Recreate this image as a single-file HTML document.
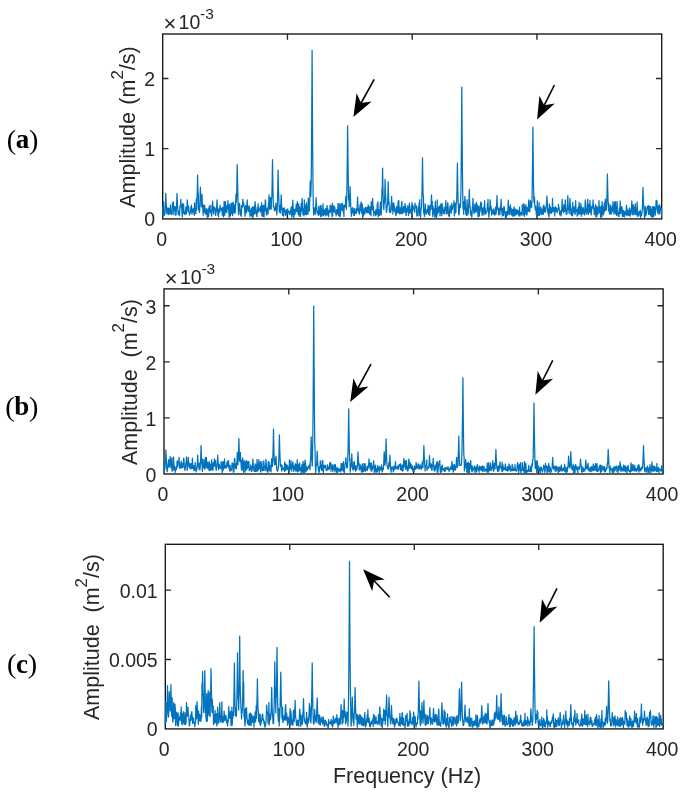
<!DOCTYPE html>
<html><head><meta charset="utf-8"><title>fig</title><style>html,body{margin:0;padding:0;background:#fff}svg{display:block;opacity:0.999;will-change:transform}text{font-family:"Liberation Sans",sans-serif}.ser{font-family:"Liberation Serif",serif}</style></head><body>
<svg width="686" height="799" viewBox="0 0 686 799">
<rect width="686" height="799" fill="#fff"/>
<rect x="162.70" y="34.00" width="499.00" height="184.90" fill="none" stroke="#141414" stroke-width="1.35"/>
<text x="161.7" y="246.0" font-size="19.5" text-anchor="middle" fill="#262626">0</text>
<path d="M287.45 218.90 v-5.7 M287.45 34.00 v5.7" stroke="#262626" stroke-width="1.35" fill="none"/>
<text x="286.4" y="246.0" font-size="19.5" text-anchor="middle" fill="#262626">100</text>
<path d="M412.20 218.90 v-5.7 M412.20 34.00 v5.7" stroke="#262626" stroke-width="1.35" fill="none"/>
<text x="411.2" y="246.0" font-size="19.5" text-anchor="middle" fill="#262626">200</text>
<path d="M536.95 218.90 v-5.7 M536.95 34.00 v5.7" stroke="#262626" stroke-width="1.35" fill="none"/>
<text x="536.0" y="246.0" font-size="19.5" text-anchor="middle" fill="#262626">300</text>
<text x="660.7" y="246.0" font-size="19.5" text-anchor="middle" fill="#262626">400</text>
<text x="155.1" y="226.4" font-size="19.5" text-anchor="end" fill="#262626">0</text>
<path d="M162.70 148.65 h5.7 M661.70 148.65 h-5.7" stroke="#262626" stroke-width="1.35" fill="none"/>
<text x="155.1" y="156.2" font-size="19.5" text-anchor="end" fill="#262626">1</text>
<path d="M162.70 78.50 h5.7 M661.70 78.50 h-5.7" stroke="#262626" stroke-width="1.35" fill="none"/>
<text x="155.1" y="86.0" font-size="19.5" text-anchor="end" fill="#262626">2</text>
<text x="169.9" y="31.2" font-size="22.0" text-anchor="middle" fill="#262626">×</text>
<text x="178.6" y="29.1" font-size="19.5" fill="#262626">10</text>
<text x="200.1" y="19.0" font-size="15.5" fill="#262626">-3</text>
<text transform="translate(135.4 127.0) rotate(-90)" font-size="21.5" word-spacing="1.5" text-anchor="middle" fill="#262626">Amplitude (m<tspan dy="-12.5" font-size="17.0">2</tspan><tspan dy="12.5">/s)</tspan></text>
<polyline points="162.7,206.4 163.0,216.5 163.3,209.0 163.6,201.9 163.9,214.0 164.3,215.3 164.6,214.9 164.9,213.7 165.2,208.9 165.5,202.2 165.8,193.5 166.1,202.2 166.4,206.2 166.8,213.7 167.1,210.3 167.4,210.5 167.7,208.4 168.0,207.7 168.3,214.7 168.6,213.9 168.9,209.5 169.2,208.4 169.6,213.6 169.9,208.7 170.2,213.7 170.5,205.2 170.8,212.3 171.1,213.9 171.4,210.9 171.7,214.5 172.1,214.2 172.4,202.8 172.7,209.1 173.0,208.1 173.3,201.8 173.6,209.0 173.9,214.8 174.2,209.6 174.6,206.3 174.9,210.2 175.2,210.1 175.5,207.0 175.8,215.4 176.1,213.7 176.4,208.9 176.7,202.2 177.0,193.5 177.4,202.2 177.7,207.3 178.0,210.9 178.3,214.5 178.6,211.1 178.9,211.4 179.2,213.4 179.5,215.6 179.9,207.0 180.2,206.0 180.5,205.9 180.8,199.2 181.1,205.9 181.4,208.0 181.7,205.4 182.0,213.4 182.3,217.0 182.7,203.5 183.0,206.7 183.3,213.0 183.6,204.2 183.9,211.6 184.2,213.6 184.5,211.5 184.8,214.6 185.2,211.7 185.5,213.3 185.8,207.2 186.1,212.0 186.4,214.0 186.7,211.4 187.0,206.4 187.3,199.9 187.6,206.4 188.0,205.7 188.3,211.6 188.6,206.1 188.9,210.1 189.2,212.8 189.5,215.2 189.8,213.2 190.1,213.0 190.5,212.9 190.8,207.1 191.1,209.8 191.4,205.1 191.7,208.2 192.0,214.3 192.3,209.4 192.6,212.4 193.0,210.4 193.3,208.6 193.6,209.8 193.9,208.9 194.2,215.3 194.5,202.8 194.8,213.8 195.1,212.8 195.4,208.4 195.8,213.8 196.1,203.4 196.4,198.8 196.7,210.0 197.0,201.7 197.3,190.2 197.6,175.2 197.9,190.2 198.3,193.6 198.6,210.0 198.9,207.3 199.2,210.2 199.5,212.5 199.8,206.4 200.1,198.0 200.4,187.2 200.7,198.0 201.1,195.9 201.4,206.8 201.7,202.7 202.0,194.2 202.3,202.7 202.6,206.1 202.9,209.7 203.2,215.2 203.6,205.3 203.9,207.1 204.2,212.1 204.5,204.9 204.8,207.2 205.1,210.1 205.4,213.5 205.7,212.5 206.1,214.5 206.4,208.6 206.7,209.5 207.0,210.7 207.3,217.4 207.6,210.3 207.9,213.2 208.2,208.9 208.5,216.7 208.9,214.0 209.2,206.4 209.5,206.1 209.8,210.4 210.1,205.4 210.4,212.5 210.7,211.0 211.0,210.5 211.4,214.3 211.7,216.2 212.0,205.2 212.3,210.5 212.6,201.1 212.9,205.9 213.2,209.1 213.5,214.0 213.8,213.7 214.2,207.0 214.5,207.7 214.8,207.8 215.1,208.5 215.4,210.9 215.7,215.4 216.0,212.2 216.3,211.4 216.7,206.4 217.0,199.9 217.3,206.4 217.6,211.4 217.9,215.0 218.2,210.0 218.5,216.8 218.8,209.4 219.1,208.6 219.5,211.9 219.8,212.2 220.1,205.2 220.4,207.8 220.7,209.7 221.0,209.9 221.3,208.2 221.6,210.4 222.0,209.4 222.3,215.2 222.6,207.5 222.9,207.8 223.2,214.3 223.5,216.9 223.8,214.5 224.1,201.4 224.5,208.9 224.8,215.1 225.1,208.5 225.4,201.6 225.7,208.5 226.0,212.2 226.3,208.1 226.6,206.2 226.9,212.5 227.3,205.2 227.6,206.8 227.9,200.6 228.2,206.8 228.5,209.6 228.8,208.5 229.1,217.4 229.4,204.5 229.8,211.3 230.1,214.5 230.4,216.0 230.7,210.1 231.0,203.4 231.3,213.8 231.6,205.2 231.9,211.9 232.2,203.0 232.6,215.7 232.9,208.5 233.2,202.2 233.5,209.5 233.8,212.7 234.1,212.9 234.4,211.7 234.7,204.5 235.1,213.1 235.4,209.2 235.7,202.7 236.0,194.2 236.3,202.7 236.6,197.5 236.9,183.2 237.2,164.6 237.6,183.2 237.9,197.5 238.2,207.9 238.5,214.6 238.8,211.2 239.1,204.9 239.4,203.3 239.7,204.7 240.0,208.8 240.4,215.0 240.7,211.1 241.0,215.2 241.3,216.3 241.6,205.6 241.9,208.3 242.2,207.6 242.5,205.9 242.9,199.2 243.2,205.9 243.5,202.7 243.8,204.5 244.1,206.6 244.4,207.3 244.7,210.3 245.0,216.3 245.3,213.4 245.7,205.3 246.0,213.0 246.3,212.4 246.6,210.9 246.9,206.4 247.2,199.9 247.5,206.4 247.8,206.6 248.2,211.4 248.5,211.3 248.8,211.2 249.1,205.8 249.4,209.4 249.7,207.7 250.0,216.5 250.3,213.4 250.6,210.3 251.0,211.1 251.3,215.4 251.6,208.0 251.9,211.8 252.2,217.6 252.5,208.9 252.8,206.8 253.1,216.9 253.5,207.9 253.8,211.7 254.1,206.3 254.4,214.1 254.7,213.0 255.0,201.7 255.3,204.6 255.6,207.8 256.0,212.4 256.3,214.4 256.6,213.5 256.9,216.6 257.2,210.6 257.5,207.2 257.8,212.9 258.1,203.8 258.4,211.4 258.8,209.0 259.1,209.0 259.4,209.7 259.7,208.8 260.0,211.3 260.3,206.3 260.6,212.2 260.9,211.4 261.3,210.8 261.6,202.7 261.9,216.1 262.2,205.4 262.5,207.4 262.8,206.3 263.1,216.5 263.4,212.1 263.7,205.2 264.1,216.9 264.4,208.6 264.7,211.4 265.0,206.4 265.3,199.9 265.6,201.1 265.9,210.8 266.2,210.3 266.6,215.2 266.9,212.0 267.2,208.1 267.5,212.0 267.8,208.0 268.1,214.0 268.4,203.9 268.7,203.1 269.0,194.9 269.4,203.1 269.7,209.5 270.0,207.6 270.3,197.6 270.6,207.1 270.9,207.6 271.2,209.2 271.5,199.4 271.9,195.6 272.2,180.0 272.5,159.7 272.8,180.0 273.1,195.6 273.4,206.9 273.7,205.7 274.0,206.5 274.4,210.8 274.7,208.5 275.0,209.3 275.3,209.9 275.6,207.5 275.9,203.1 276.2,211.0 276.5,208.6 276.8,215.0 277.2,209.0 277.5,199.8 277.8,186.9 278.1,170.2 278.4,186.9 278.7,195.5 279.0,203.3 279.3,212.0 279.7,209.9 280.0,205.6 280.3,213.2 280.6,209.5 280.9,203.1 281.2,194.9 281.5,203.1 281.8,209.5 282.1,209.1 282.5,215.3 282.8,208.1 283.1,210.5 283.4,214.3 283.7,216.1 284.0,208.5 284.3,207.8 284.6,211.5 285.0,211.6 285.3,211.6 285.6,215.2 285.9,211.2 286.2,209.6 286.5,211.3 286.8,214.7 287.1,209.8 287.4,210.9 287.8,208.8 288.1,212.5 288.4,211.1 288.7,212.0 289.0,211.8 289.3,214.2 289.6,213.6 289.9,214.5 290.3,210.5 290.6,212.5 290.9,209.7 291.2,207.2 291.5,214.8 291.8,216.9 292.1,206.1 292.4,214.9 292.8,200.1 293.1,206.8 293.4,216.8 293.7,218.0 294.0,209.2 294.3,211.6 294.6,209.5 294.9,214.7 295.2,211.5 295.6,208.9 295.9,211.8 296.2,204.2 296.5,209.2 296.8,209.9 297.1,211.4 297.4,201.7 297.7,205.3 298.1,213.5 298.4,214.6 298.7,203.8 299.0,216.1 299.3,209.5 299.6,206.9 299.9,209.7 300.2,211.1 300.5,216.5 300.9,212.1 301.2,203.4 301.5,210.9 301.8,205.5 302.1,198.4 302.4,205.5 302.7,210.9 303.0,214.7 303.4,210.0 303.7,208.6 304.0,215.9 304.3,199.8 304.6,210.8 304.9,206.5 305.2,214.2 305.5,205.4 305.9,205.0 306.2,214.9 306.5,202.7 306.8,206.2 307.1,214.2 307.4,208.1 307.7,211.9 308.0,214.1 308.3,198.0 308.7,206.4 309.0,209.1 309.3,211.2 309.6,203.9 309.9,193.9 310.2,180.8 310.5,193.9 310.8,196.4 311.2,183.0 311.5,152.6 311.8,108.1 312.1,50.4 312.4,108.1 312.7,152.6 313.0,184.7 313.3,205.4 313.6,214.9 314.0,209.2 314.3,213.0 314.6,207.9 314.9,208.7 315.2,214.6 315.5,208.8 315.8,205.0 316.1,197.7 316.5,205.0 316.8,210.6 317.1,213.0 317.4,212.7 317.7,211.1 318.0,214.1 318.3,215.4 318.6,206.6 318.9,213.6 319.3,211.8 319.6,209.8 319.9,214.7 320.2,205.7 320.5,216.7 320.8,208.9 321.1,205.7 321.4,212.3 321.8,216.1 322.1,216.0 322.4,208.1 322.7,213.2 323.0,203.9 323.3,210.3 323.6,215.7 323.9,212.0 324.3,214.0 324.6,209.8 324.9,214.4 325.2,213.4 325.5,208.7 325.8,216.0 326.1,214.2 326.4,209.1 326.7,209.5 327.1,205.5 327.4,215.0 327.7,208.2 328.0,211.5 328.3,214.2 328.6,216.7 328.9,210.6 329.2,212.1 329.6,212.5 329.9,210.0 330.2,205.0 330.5,212.3 330.8,206.7 331.1,209.7 331.4,207.5 331.7,205.9 332.0,216.9 332.4,203.2 332.7,215.5 333.0,205.9 333.3,205.8 333.6,210.8 333.9,211.8 334.2,206.2 334.5,211.6 334.9,207.7 335.2,210.8 335.5,213.1 335.8,211.5 336.1,215.7 336.4,211.9 336.7,209.7 337.0,210.5 337.4,213.9 337.7,214.2 338.0,203.6 338.3,204.5 338.6,215.6 338.9,211.7 339.2,203.8 339.5,214.1 339.8,216.2 340.2,216.8 340.5,213.2 340.8,203.6 341.1,206.7 341.4,207.7 341.7,210.2 342.0,204.3 342.3,203.4 342.7,207.9 343.0,210.2 343.3,212.5 343.6,205.7 343.9,216.6 344.2,205.0 344.5,207.9 344.8,206.9 345.1,206.3 345.5,204.1 345.8,196.3 346.1,204.1 346.4,209.5 346.7,200.0 347.0,182.3 347.3,157.7 347.6,125.8 348.0,157.7 348.3,182.3 348.6,200.0 348.9,194.5 349.2,206.7 349.5,203.7 349.8,197.6 350.1,186.5 350.4,197.6 350.8,206.1 351.1,212.3 351.4,216.3 351.7,211.0 352.0,209.6 352.3,208.5 352.6,207.7 352.9,213.0 353.3,211.3 353.6,213.8 353.9,215.5 354.2,208.4 354.5,215.5 354.8,211.8 355.1,209.0 355.4,212.6 355.8,212.7 356.1,213.4 356.4,213.6 356.7,208.3 357.0,210.3 357.3,204.5 357.6,197.0 357.9,204.5 358.2,210.3 358.6,212.6 358.9,209.2 359.2,209.2 359.5,214.1 359.8,207.9 360.1,204.6 360.4,210.8 360.7,209.2 361.1,201.9 361.4,209.5 361.7,213.2 362.0,203.6 362.3,204.7 362.6,217.6 362.9,214.1 363.2,213.2 363.5,215.9 363.9,208.0 364.2,211.4 364.5,210.3 364.8,214.2 365.1,212.8 365.4,208.2 365.7,207.3 366.0,211.5 366.4,208.2 366.7,212.4 367.0,212.7 367.3,207.4 367.6,212.6 367.9,209.6 368.2,205.0 368.5,212.6 368.8,206.6 369.2,208.8 369.5,214.0 369.8,206.8 370.1,214.1 370.4,207.0 370.7,212.0 371.0,215.8 371.3,201.5 371.7,209.3 372.0,209.5 372.3,205.5 372.6,198.4 372.9,205.5 373.2,210.9 373.5,206.5 373.8,216.0 374.2,211.5 374.5,211.7 374.8,213.4 375.1,212.9 375.4,211.3 375.7,215.7 376.0,209.4 376.3,214.6 376.6,209.7 377.0,213.9 377.3,203.5 377.6,209.8 377.9,201.7 378.2,216.9 378.5,214.5 378.8,209.7 379.1,215.5 379.5,213.8 379.8,215.4 380.1,207.8 380.4,202.1 380.7,212.4 381.0,203.0 381.3,214.8 381.6,202.5 381.9,191.2 382.3,185.5 382.6,168.1 382.9,185.5 383.2,198.9 383.5,206.0 383.8,209.6 384.1,202.6 384.4,203.4 384.8,192.9 385.1,179.4 385.4,192.9 385.7,197.0 386.0,204.4 386.3,210.6 386.6,212.3 386.9,209.3 387.2,205.8 387.6,204.2 387.9,194.3 388.2,181.5 388.5,194.3 388.8,204.2 389.1,202.4 389.4,211.4 389.7,212.3 390.1,210.0 390.4,210.5 390.7,212.6 391.0,205.0 391.3,204.1 391.6,196.3 391.9,204.1 392.2,210.0 392.6,208.3 392.9,214.0 393.2,203.3 393.5,202.8 393.8,203.7 394.1,210.1 394.4,205.9 394.7,211.6 395.0,208.2 395.4,211.5 395.7,215.0 396.0,215.6 396.3,213.3 396.6,206.9 396.9,206.7 397.2,212.9 397.5,211.0 397.9,206.1 398.2,200.8 398.5,212.5 398.8,200.6 399.1,209.9 399.4,213.9 399.7,211.7 400.0,207.4 400.3,213.4 400.7,211.7 401.0,213.9 401.3,209.5 401.6,202.6 401.9,201.3 402.2,213.3 402.5,209.9 402.8,208.5 403.2,213.1 403.5,207.5 403.8,206.4 404.1,210.2 404.4,207.1 404.7,212.1 405.0,203.5 405.3,208.3 405.7,206.1 406.0,215.4 406.3,215.0 406.6,208.7 406.9,208.6 407.2,210.9 407.5,211.7 407.8,205.7 408.1,207.8 408.5,215.5 408.8,211.2 409.1,213.2 409.4,203.1 409.7,212.3 410.0,211.6 410.3,209.7 410.6,209.8 411.0,213.5 411.3,206.0 411.6,216.8 411.9,202.4 412.2,209.6 412.5,212.2 412.8,204.8 413.1,207.3 413.4,207.1 413.8,207.8 414.1,209.7 414.4,209.6 414.7,212.3 415.0,203.1 415.3,207.1 415.6,206.8 415.9,205.6 416.3,205.6 416.6,211.8 416.9,216.0 417.2,212.1 417.5,215.1 417.8,215.9 418.1,207.0 418.4,210.0 418.7,211.2 419.1,202.7 419.4,215.1 419.7,199.6 420.0,213.3 420.3,215.7 420.6,217.3 420.9,210.5 421.2,208.6 421.6,206.5 421.9,194.9 422.2,178.8 422.5,157.9 422.8,178.8 423.1,194.9 423.4,195.4 423.7,213.3 424.1,210.4 424.4,216.7 424.7,212.1 425.0,208.4 425.3,203.8 425.6,210.6 425.9,212.2 426.2,214.3 426.5,211.1 426.9,212.4 427.2,209.3 427.5,209.9 427.8,212.0 428.1,205.2 428.4,214.3 428.7,207.7 429.0,211.9 429.4,206.0 429.7,215.4 430.0,208.6 430.3,209.9 430.6,205.2 430.9,209.5 431.2,203.1 431.5,194.9 431.8,203.1 432.2,201.1 432.5,211.2 432.8,216.6 433.1,206.4 433.4,211.2 433.7,208.8 434.0,214.1 434.3,208.8 434.7,217.0 435.0,213.3 435.3,201.2 435.6,214.1 435.9,214.7 436.2,217.8 436.5,208.5 436.8,216.7 437.2,199.9 437.5,214.0 437.8,208.3 438.1,209.4 438.4,212.7 438.7,207.1 439.0,208.8 439.3,206.6 439.6,205.8 440.0,215.9 440.3,212.6 440.6,209.4 440.9,203.8 441.2,208.0 441.5,212.7 441.8,215.7 442.1,203.7 442.5,209.1 442.8,207.0 443.1,209.8 443.4,213.5 443.7,210.3 444.0,210.0 444.3,213.8 444.6,210.6 444.9,207.0 445.3,210.3 445.6,205.6 445.9,200.7 446.2,214.0 446.5,206.9 446.8,212.5 447.1,213.2 447.4,209.6 447.8,202.7 448.1,207.1 448.4,214.7 448.7,215.7 449.0,213.8 449.3,216.8 449.6,210.0 449.9,208.1 450.2,205.6 450.6,211.3 450.9,212.0 451.2,213.4 451.5,209.9 451.8,203.4 452.1,209.0 452.4,209.5 452.7,206.7 453.1,205.8 453.4,205.7 453.7,206.4 454.0,200.9 454.3,215.8 454.6,209.8 454.9,203.2 455.2,210.7 455.6,213.0 455.9,212.3 456.2,202.6 456.5,203.5 456.8,197.0 457.1,182.3 457.4,163.2 457.7,182.3 458.0,197.0 458.4,207.6 458.7,214.4 459.0,214.8 459.3,212.5 459.6,204.2 459.9,207.5 460.2,205.0 460.5,207.6 460.9,192.1 461.2,167.0 461.5,132.2 461.8,87.1 462.1,132.2 462.4,167.0 462.7,192.1 463.0,208.4 463.3,205.9 463.7,214.3 464.0,201.7 464.3,210.0 464.6,204.1 464.9,196.3 465.2,201.2 465.5,205.8 465.8,214.3 466.2,212.9 466.5,215.3 466.8,210.1 467.1,199.6 467.4,212.6 467.7,215.0 468.0,212.0 468.3,212.9 468.6,207.2 469.0,199.4 469.3,189.3 469.6,199.4 469.9,207.2 470.2,206.9 470.5,214.9 470.8,213.0 471.1,211.0 471.5,212.3 471.8,217.3 472.1,213.5 472.4,206.2 472.7,205.5 473.0,198.4 473.3,205.5 473.6,210.1 474.0,213.5 474.3,212.5 474.6,210.6 474.9,204.0 475.2,207.1 475.5,211.5 475.8,210.1 476.1,212.4 476.4,202.4 476.8,210.6 477.1,204.5 477.4,206.4 477.7,206.3 478.0,216.9 478.3,210.2 478.6,215.9 478.9,206.1 479.3,216.1 479.6,212.4 479.9,209.6 480.2,211.2 480.5,204.0 480.8,202.2 481.1,206.4 481.4,202.9 481.7,209.4 482.1,215.4 482.4,209.0 482.7,208.4 483.0,213.0 483.3,207.6 483.6,212.3 483.9,214.9 484.2,209.2 484.6,200.7 484.9,208.7 485.2,208.3 485.5,213.6 485.8,214.1 486.1,211.4 486.4,212.4 486.7,211.3 487.1,211.2 487.4,203.9 487.7,209.5 488.0,199.4 488.3,210.9 488.6,212.4 488.9,217.3 489.2,213.2 489.5,208.4 489.9,206.4 490.2,199.9 490.5,206.4 490.8,210.3 491.1,206.3 491.4,210.3 491.7,215.1 492.0,210.7 492.4,210.2 492.7,212.7 493.0,212.1 493.3,214.0 493.6,208.9 493.9,213.0 494.2,212.4 494.5,214.7 494.8,215.3 495.2,211.1 495.5,207.2 495.8,211.9 496.1,214.2 496.4,209.7 496.7,203.6 497.0,195.6 497.3,203.6 497.7,209.3 498.0,209.3 498.3,210.9 498.6,214.9 498.9,209.0 499.2,207.8 499.5,211.7 499.8,214.7 500.1,211.5 500.5,209.1 500.8,205.9 501.1,199.2 501.4,205.9 501.7,211.1 502.0,213.3 502.3,216.1 502.6,208.3 503.0,213.2 503.3,210.5 503.6,215.4 503.9,206.5 504.2,206.8 504.5,210.1 504.8,212.9 505.1,211.6 505.5,217.6 505.8,215.7 506.1,212.5 506.4,217.4 506.7,211.3 507.0,211.3 507.3,212.5 507.6,215.2 507.9,208.7 508.3,200.2 508.6,213.8 508.9,211.8 509.2,207.2 509.5,210.9 509.8,214.6 510.1,210.0 510.4,204.9 510.8,211.4 511.1,208.1 511.4,214.4 511.7,210.2 512.0,215.4 512.3,209.3 512.6,211.6 512.9,216.5 513.2,214.8 513.6,208.8 513.9,209.4 514.2,206.8 514.5,215.9 514.8,215.3 515.1,212.1 515.4,211.1 515.7,209.1 516.1,214.9 516.4,210.8 516.7,211.4 517.0,209.8 517.3,213.9 517.6,210.9 517.9,210.3 518.2,212.3 518.5,212.3 518.9,215.6 519.2,213.3 519.5,207.1 519.8,216.1 520.1,213.8 520.4,212.4 520.7,212.1 521.0,213.4 521.4,214.8 521.7,215.2 522.0,215.2 522.3,204.7 522.6,208.7 522.9,206.1 523.2,205.1 523.5,215.0 523.9,203.6 524.2,206.1 524.5,216.3 524.8,209.6 525.1,206.7 525.4,213.3 525.7,206.1 526.0,204.7 526.3,214.6 526.7,212.7 527.0,215.0 527.3,207.4 527.6,211.4 527.9,210.3 528.2,211.4 528.5,206.4 528.8,199.9 529.2,206.4 529.5,211.4 529.8,211.7 530.1,206.8 530.4,200.6 530.7,206.8 531.0,204.6 531.3,202.3 531.6,207.7 532.0,200.3 532.3,182.8 532.6,158.6 532.9,127.2 533.2,158.6 533.5,182.8 533.8,200.3 534.1,202.6 534.5,196.9 534.8,205.7 535.1,207.8 535.4,209.8 535.7,206.3 536.0,208.9 536.3,215.0 536.6,208.7 537.0,216.6 537.3,200.8 537.6,209.5 537.9,207.9 538.2,215.5 538.5,211.1 538.8,214.2 539.1,202.6 539.4,215.4 539.8,210.1 540.1,212.7 540.4,208.2 540.7,207.1 541.0,214.1 541.3,209.7 541.6,214.6 541.9,209.1 542.3,211.4 542.6,209.7 542.9,214.0 543.2,206.0 543.5,214.3 543.8,205.1 544.1,207.6 544.4,207.3 544.7,211.6 545.1,207.9 545.4,212.2 545.7,211.4 546.0,207.6 546.3,204.6 546.6,203.8 546.9,196.0 547.2,200.5 547.6,209.5 547.9,213.1 548.2,208.8 548.5,215.8 548.8,211.3 549.1,217.0 549.4,204.0 549.7,213.6 550.0,206.5 550.4,206.5 550.7,212.4 551.0,210.2 551.3,208.4 551.6,213.4 551.9,210.9 552.2,211.6 552.5,198.4 552.9,210.5 553.2,211.7 553.5,210.8 553.8,207.6 554.1,208.1 554.4,207.8 554.7,215.9 555.0,212.2 555.4,206.7 555.7,211.0 556.0,208.6 556.3,208.8 556.6,208.0 556.9,212.0 557.2,212.8 557.5,210.6 557.8,209.8 558.2,209.2 558.5,204.3 558.8,208.6 559.1,207.6 559.4,210.4 559.7,214.8 560.0,212.9 560.3,212.7 560.7,210.8 561.0,215.9 561.3,212.9 561.6,211.4 561.9,205.5 562.2,199.3 562.5,209.8 562.8,211.0 563.1,210.6 563.5,212.7 563.8,204.8 564.1,211.2 564.4,210.7 564.7,211.4 565.0,204.9 565.3,199.9 565.6,206.4 566.0,211.4 566.3,214.4 566.6,213.3 566.9,214.2 567.2,209.7 567.5,203.6 567.8,195.6 568.1,203.6 568.4,209.7 568.8,207.8 569.1,213.5 569.4,210.9 569.7,205.5 570.0,198.4 570.3,205.5 570.6,205.2 570.9,214.7 571.3,212.5 571.6,215.3 571.9,212.8 572.2,208.2 572.5,216.0 572.8,202.3 573.1,213.3 573.4,211.0 573.8,211.1 574.1,207.2 574.4,206.9 574.7,211.9 575.0,214.3 575.3,213.0 575.6,200.7 575.9,207.3 576.2,211.4 576.6,209.7 576.9,209.6 577.2,216.1 577.5,215.4 577.8,214.8 578.1,207.3 578.4,209.1 578.7,214.2 579.1,202.2 579.4,212.3 579.7,209.7 580.0,213.8 580.3,205.6 580.6,211.8 580.9,203.5 581.2,216.3 581.5,206.9 581.9,212.2 582.2,214.3 582.5,208.6 582.8,213.7 583.1,207.3 583.4,209.1 583.7,212.5 584.0,211.1 584.4,215.0 584.7,211.4 585.0,206.4 585.3,199.9 585.6,206.4 585.9,211.4 586.2,214.2 586.5,213.5 586.9,210.6 587.2,208.3 587.5,202.1 587.8,199.3 588.1,214.1 588.4,214.4 588.7,204.7 589.0,209.4 589.3,212.5 589.7,212.3 590.0,200.4 590.3,209.7 590.6,206.2 590.9,212.2 591.2,214.9 591.5,211.4 591.8,208.3 592.2,205.6 592.5,208.4 592.8,206.4 593.1,199.9 593.4,206.4 593.7,206.3 594.0,210.3 594.3,214.7 594.6,208.4 595.0,212.0 595.3,213.7 595.6,204.5 595.9,216.9 596.2,208.0 596.5,207.5 596.8,216.7 597.1,206.4 597.5,211.1 597.8,214.4 598.1,209.9 598.4,208.1 598.7,212.5 599.0,200.6 599.3,209.8 599.6,212.8 599.9,213.2 600.3,206.9 600.6,217.2 600.9,211.9 601.2,217.2 601.5,205.6 601.8,216.9 602.1,201.5 602.4,206.9 602.8,206.5 603.1,215.0 603.4,208.7 603.7,213.9 604.0,212.9 604.3,203.2 604.6,211.1 604.9,205.9 605.3,199.2 605.6,201.2 605.9,210.4 606.2,203.4 606.5,209.8 606.8,201.2 607.1,189.4 607.4,174.0 607.7,189.4 608.1,201.2 608.4,205.1 608.7,211.0 609.0,203.8 609.3,213.2 609.6,211.1 609.9,214.2 610.2,213.8 610.6,205.1 610.9,211.2 611.2,214.1 611.5,212.5 611.8,212.7 612.1,207.0 612.4,211.3 612.7,209.7 613.0,201.6 613.4,209.5 613.7,208.2 614.0,214.1 614.3,207.5 614.6,202.2 614.9,207.4 615.2,213.0 615.5,201.7 615.9,213.7 616.2,206.5 616.5,215.4 616.8,214.1 617.1,201.5 617.4,213.3 617.7,212.8 618.0,212.1 618.3,216.1 618.7,212.6 619.0,216.4 619.3,208.1 619.6,213.4 619.9,210.5 620.2,201.0 620.5,211.2 620.8,213.7 621.2,207.3 621.5,207.6 621.8,206.6 622.1,207.8 622.4,216.3 622.7,210.0 623.0,214.0 623.3,216.4 623.7,210.6 624.0,214.4 624.3,217.0 624.6,211.7 624.9,215.1 625.2,213.8 625.5,213.3 625.8,214.5 626.1,209.9 626.5,205.2 626.8,215.7 627.1,208.8 627.4,214.9 627.7,211.3 628.0,211.3 628.3,210.7 628.6,215.3 629.0,215.3 629.3,207.8 629.6,211.5 629.9,208.5 630.2,216.2 630.5,213.7 630.8,211.7 631.1,210.4 631.4,210.9 631.8,200.9 632.1,214.3 632.4,214.7 632.7,209.3 633.0,204.6 633.3,205.7 633.6,207.6 633.9,214.9 634.3,213.8 634.6,207.0 634.9,213.6 635.2,203.8 635.5,207.2 635.8,213.6 636.1,215.0 636.4,211.4 636.8,214.0 637.1,201.9 637.4,208.2 637.7,216.5 638.0,212.1 638.3,216.0 638.6,213.2 638.9,215.3 639.2,211.5 639.6,211.5 639.9,213.0 640.2,210.1 640.5,217.4 640.8,213.0 641.1,212.5 641.4,215.7 641.7,213.5 642.1,212.5 642.4,206.5 642.7,198.2 643.0,187.4 643.3,198.2 643.6,203.7 643.9,209.2 644.2,210.6 644.5,217.7 644.9,216.4 645.2,206.5 645.5,208.1 645.8,215.5 646.1,214.7 646.4,213.4 646.7,211.7 647.0,208.6 647.4,206.3 647.7,208.7 648.0,208.2 648.3,205.5 648.6,214.4 648.9,211.6 649.2,214.2 649.5,207.0 649.8,206.4 650.2,210.9 650.5,215.2 650.8,206.6 651.1,216.6 651.4,209.0 651.7,212.4 652.0,213.0 652.3,217.2 652.7,206.6 653.0,207.1 653.3,206.7 653.6,216.7 653.9,211.4 654.2,208.0 654.5,206.9 654.8,211.6 655.2,215.3 655.5,210.4 655.8,209.8 656.1,200.4 656.4,207.8 656.7,200.4 657.0,201.2 657.3,209.7 657.6,212.8 658.0,210.2 658.3,206.1 658.6,206.9 658.9,214.1 659.2,204.7 659.5,209.3 659.8,213.8 660.1,206.0 660.5,210.2 660.8,210.3 661.1,208.9 661.4,208.3 661.7,217.0" fill="none" stroke="#0072BD" stroke-width="1.25" stroke-linejoin="round"/>
<line x1="374.2" y1="79.3" x2="361.1" y2="103.0" stroke="#000" stroke-width="1.60"/><polygon points="353.4,117.0 356.6,93.3 361.1,103.0 371.7,101.6" fill="#000"/>
<line x1="554.4" y1="85.0" x2="544.3" y2="105.2" stroke="#000" stroke-width="1.60"/><polygon points="537.1,119.5 539.4,95.7 544.3,105.2 554.8,103.4" fill="#000"/>
<rect x="164.00" y="288.90" width="499.15" height="185.10" fill="none" stroke="#141414" stroke-width="1.35"/>
<text x="163.0" y="501.1" font-size="19.5" text-anchor="middle" fill="#262626">0</text>
<path d="M288.79 474.00 v-5.7 M288.79 288.90 v5.7" stroke="#262626" stroke-width="1.35" fill="none"/>
<text x="287.8" y="501.1" font-size="19.5" text-anchor="middle" fill="#262626">100</text>
<path d="M413.57 474.00 v-5.7 M413.57 288.90 v5.7" stroke="#262626" stroke-width="1.35" fill="none"/>
<text x="412.6" y="501.1" font-size="19.5" text-anchor="middle" fill="#262626">200</text>
<path d="M538.36 474.00 v-5.7 M538.36 288.90 v5.7" stroke="#262626" stroke-width="1.35" fill="none"/>
<text x="537.4" y="501.1" font-size="19.5" text-anchor="middle" fill="#262626">300</text>
<text x="662.1" y="501.1" font-size="19.5" text-anchor="middle" fill="#262626">400</text>
<text x="156.4" y="482.0" font-size="19.5" text-anchor="end" fill="#262626">0</text>
<path d="M164.00 417.90 h5.7 M663.15 417.90 h-5.7" stroke="#262626" stroke-width="1.35" fill="none"/>
<text x="156.4" y="425.9" font-size="19.5" text-anchor="end" fill="#262626">1</text>
<path d="M164.00 361.85 h5.7 M663.15 361.85 h-5.7" stroke="#262626" stroke-width="1.35" fill="none"/>
<text x="156.4" y="369.9" font-size="19.5" text-anchor="end" fill="#262626">2</text>
<path d="M164.00 305.75 h5.7 M663.15 305.75 h-5.7" stroke="#262626" stroke-width="1.35" fill="none"/>
<text x="156.4" y="313.8" font-size="19.5" text-anchor="end" fill="#262626">3</text>
<text x="171.2" y="286.1" font-size="22.0" text-anchor="middle" fill="#262626">×</text>
<text x="179.9" y="284.0" font-size="19.5" fill="#262626">10</text>
<text x="201.4" y="273.9" font-size="15.5" fill="#262626">-3</text>
<text transform="translate(136.6 382.0) rotate(-90)" font-size="21.5" word-spacing="0.0" text-anchor="middle" fill="#262626">Amplitude&#160;&#160;(m<tspan dy="-12.5" font-size="17.0">2</tspan><tspan dy="12.5">/s)</tspan></text>
<polyline points="164.0,469.2 164.3,463.1 164.6,464.9 164.9,469.1 165.2,464.6 165.6,458.2 165.9,450.0 166.2,458.2 166.5,461.8 166.8,468.5 167.1,471.8 167.4,470.1 167.7,467.6 168.1,464.6 168.4,462.1 168.7,459.6 169.0,467.0 169.3,466.7 169.6,463.9 169.9,463.9 170.2,456.6 170.6,463.6 170.9,467.6 171.2,467.7 171.5,465.4 171.8,457.9 172.1,471.3 172.4,466.1 172.7,465.1 173.0,470.4 173.4,457.0 173.7,458.1 174.0,469.0 174.3,467.8 174.6,466.2 174.9,470.5 175.2,472.3 175.5,469.3 175.9,469.6 176.2,466.9 176.5,469.3 176.8,465.7 177.1,461.3 177.4,460.8 177.7,467.0 178.0,463.2 178.4,461.9 178.7,463.0 179.0,457.3 179.3,463.0 179.6,467.4 179.9,468.5 180.2,468.1 180.5,468.0 180.8,463.3 181.2,461.3 181.5,465.0 181.8,467.9 182.1,463.3 182.4,467.6 182.7,467.2 183.0,466.1 183.3,465.6 183.7,458.1 184.0,460.1 184.3,468.0 184.6,468.3 184.9,470.4 185.2,468.3 185.5,466.2 185.8,462.6 186.1,463.3 186.5,456.8 186.8,462.7 187.1,470.1 187.4,469.8 187.7,466.3 188.0,463.0 188.3,457.3 188.6,463.0 189.0,462.9 189.3,467.3 189.6,463.5 189.9,468.0 190.2,465.7 190.5,468.9 190.8,466.5 191.1,463.3 191.5,468.4 191.8,466.1 192.1,468.5 192.4,458.1 192.7,464.7 193.0,466.1 193.3,468.4 193.6,465.6 193.9,470.8 194.3,470.5 194.6,468.8 194.9,466.7 195.2,462.5 195.5,469.8 195.8,469.9 196.1,471.8 196.4,467.5 196.8,470.2 197.1,466.5 197.4,461.5 197.7,455.1 198.0,461.5 198.3,466.5 198.6,465.6 198.9,468.8 199.3,464.6 199.6,463.2 199.9,470.2 200.2,467.0 200.5,462.8 200.8,455.3 201.1,445.5 201.4,455.3 201.7,462.8 202.1,465.3 202.4,471.7 202.7,464.3 203.0,458.8 203.3,465.5 203.6,467.7 203.9,463.3 204.2,467.9 204.6,459.9 204.9,469.4 205.2,467.2 205.5,457.4 205.8,467.4 206.1,463.0 206.4,457.3 206.7,463.0 207.1,467.4 207.4,468.3 207.7,464.0 208.0,462.2 208.3,468.5 208.6,468.0 208.9,465.2 209.2,470.7 209.5,461.7 209.9,467.0 210.2,470.4 210.5,464.4 210.8,469.6 211.1,464.6 211.4,469.4 211.7,459.6 212.0,469.8 212.4,469.6 212.7,464.7 213.0,470.3 213.3,462.5 213.6,465.1 213.9,464.3 214.2,466.3 214.5,458.9 214.9,465.4 215.2,465.6 215.5,460.7 215.8,466.8 216.1,470.2 216.4,470.2 216.7,467.5 217.0,466.5 217.3,461.5 217.7,455.1 218.0,461.5 218.3,463.8 218.6,469.8 218.9,464.4 219.2,464.2 219.5,468.0 219.8,467.4 220.2,468.5 220.5,468.0 220.8,466.6 221.1,461.7 221.4,464.8 221.7,465.4 222.0,470.0 222.3,472.5 222.7,461.8 223.0,461.6 223.3,470.1 223.6,463.2 223.9,468.1 224.2,464.1 224.5,459.0 224.8,464.1 225.1,468.1 225.5,465.7 225.8,467.3 226.1,468.0 226.4,466.6 226.7,464.5 227.0,462.1 227.3,463.4 227.6,466.5 228.0,460.7 228.3,462.3 228.6,460.9 228.9,468.3 229.2,465.0 229.5,469.1 229.8,471.0 230.1,465.4 230.4,468.7 230.8,469.4 231.1,470.8 231.4,469.7 231.7,469.4 232.0,463.0 232.3,463.6 232.6,463.1 232.9,463.6 233.3,472.1 233.6,468.4 233.9,471.9 234.2,465.3 234.5,458.3 234.8,459.3 235.1,466.9 235.4,466.3 235.8,468.6 236.1,463.9 236.4,468.8 236.7,465.4 237.0,459.7 237.3,452.3 237.6,457.4 237.9,464.7 238.2,460.0 238.6,450.6 238.9,438.5 239.2,450.6 239.5,460.0 239.8,461.5 240.1,459.7 240.4,452.3 240.7,459.7 241.1,464.0 241.4,469.3 241.7,460.7 242.0,470.5 242.3,462.0 242.6,457.8 242.9,464.9 243.2,463.5 243.6,472.7 243.9,466.3 244.2,460.4 244.5,462.5 244.8,461.8 245.1,471.9 245.4,468.8 245.7,466.2 246.0,462.7 246.4,460.5 246.7,470.0 247.0,463.5 247.3,468.4 247.6,461.6 247.9,465.0 248.2,467.3 248.5,464.7 248.9,461.3 249.2,470.7 249.5,470.0 249.8,468.9 250.1,467.3 250.4,469.5 250.7,465.0 251.0,466.4 251.4,471.4 251.7,468.8 252.0,470.9 252.3,468.1 252.6,464.1 252.9,459.0 253.2,464.1 253.5,467.2 253.8,469.7 254.2,471.7 254.5,470.5 254.8,468.4 255.1,463.8 255.4,471.4 255.7,466.6 256.0,468.5 256.3,464.8 256.7,471.5 257.0,459.4 257.3,466.9 257.6,470.7 257.9,467.5 258.2,464.2 258.5,470.2 258.8,459.7 259.2,468.2 259.5,468.7 259.8,467.5 260.1,465.0 260.4,461.6 260.7,472.1 261.0,468.8 261.3,465.6 261.6,466.4 262.0,461.7 262.3,470.8 262.6,469.1 262.9,468.1 263.2,470.0 263.5,470.4 263.8,460.8 264.1,466.6 264.5,465.9 264.8,467.3 265.1,470.6 265.4,468.3 265.7,464.5 266.0,459.5 266.3,464.5 266.6,468.3 266.9,471.1 267.3,469.5 267.6,468.0 267.9,472.6 268.2,461.9 268.5,469.9 268.8,461.6 269.1,462.5 269.4,470.9 269.8,466.4 270.1,465.4 270.4,468.7 270.7,469.5 271.0,471.9 271.3,464.4 271.6,458.7 271.9,465.7 272.3,466.6 272.6,461.6 272.9,456.3 273.2,444.4 273.5,429.0 273.8,444.4 274.1,456.3 274.4,464.9 274.7,458.4 275.1,464.5 275.4,463.3 275.7,462.3 276.0,456.2 276.3,462.3 276.6,467.0 276.9,470.3 277.2,470.1 277.6,471.4 277.9,470.0 278.2,468.0 278.5,466.1 278.8,458.6 279.1,448.3 279.4,434.9 279.7,448.3 280.1,458.6 280.4,466.1 280.7,464.9 281.0,464.6 281.3,466.7 281.6,470.9 281.9,465.2 282.2,467.0 282.5,469.9 282.9,468.4 283.2,467.9 283.5,468.8 283.8,469.0 284.1,468.7 284.4,471.5 284.7,461.9 285.0,469.1 285.4,470.6 285.7,465.7 286.0,464.0 286.3,469.2 286.6,468.7 286.9,469.8 287.2,465.1 287.5,469.4 287.9,469.4 288.2,469.4 288.5,466.9 288.8,469.7 289.1,472.0 289.4,460.0 289.7,469.4 290.0,469.6 290.3,466.9 290.7,467.9 291.0,460.7 291.3,466.4 291.6,471.1 291.9,467.7 292.2,468.0 292.5,465.2 292.8,461.9 293.2,465.9 293.5,468.6 293.8,471.5 294.1,466.2 294.4,469.4 294.7,467.6 295.0,466.3 295.3,463.6 295.7,470.9 296.0,464.6 296.3,469.6 296.6,467.7 296.9,471.0 297.2,459.6 297.5,472.0 297.8,468.4 298.1,464.0 298.5,469.0 298.8,471.1 299.1,471.0 299.4,466.0 299.7,462.8 300.0,470.3 300.3,468.5 300.6,467.6 301.0,470.1 301.3,473.2 301.6,468.0 301.9,464.6 302.2,465.9 302.5,472.0 302.8,471.8 303.1,461.3 303.5,472.8 303.8,465.2 304.1,464.0 304.4,472.6 304.7,469.0 305.0,460.1 305.3,461.7 305.6,463.9 305.9,471.8 306.3,470.9 306.6,466.8 306.9,469.2 307.2,470.0 307.5,469.9 307.8,468.6 308.1,468.4 308.4,465.8 308.8,467.3 309.1,467.5 309.4,466.8 309.7,464.2 310.0,469.6 310.3,462.4 310.6,459.4 310.9,449.5 311.2,436.8 311.6,449.5 311.9,459.4 312.2,466.1 312.5,459.3 312.8,439.9 313.1,407.9 313.4,363.6 313.7,306.1 314.1,363.6 314.4,407.9 314.7,439.9 315.0,447.0 315.3,462.9 315.6,472.7 315.9,470.0 316.2,465.6 316.6,465.0 316.9,459.0 317.2,451.1 317.5,459.0 317.8,465.0 318.1,466.3 318.4,470.8 318.7,467.4 319.0,472.5 319.4,471.0 319.7,466.5 320.0,468.3 320.3,460.8 320.6,465.4 320.9,465.8 321.2,465.1 321.5,470.1 321.9,470.6 322.2,460.7 322.5,469.2 322.8,460.6 323.1,470.5 323.4,472.5 323.7,468.0 324.0,465.5 324.4,467.5 324.7,467.4 325.0,465.1 325.3,467.2 325.6,465.6 325.9,469.5 326.2,469.5 326.5,470.4 326.8,470.6 327.2,470.1 327.5,464.8 327.8,469.0 328.1,468.0 328.4,469.4 328.7,468.9 329.0,466.8 329.3,469.2 329.7,462.9 330.0,464.8 330.3,464.7 330.6,462.4 330.9,471.1 331.2,465.7 331.5,468.6 331.8,468.8 332.2,464.5 332.5,468.0 332.8,471.7 333.1,466.2 333.4,467.3 333.7,469.4 334.0,467.3 334.3,464.5 334.6,466.4 335.0,471.9 335.3,464.7 335.6,466.1 335.9,470.4 336.2,470.5 336.5,470.7 336.8,472.3 337.1,467.7 337.5,473.0 337.8,469.0 338.1,468.4 338.4,470.8 338.7,469.2 339.0,471.1 339.3,469.8 339.6,468.9 340.0,469.7 340.3,471.3 340.6,471.9 340.9,468.0 341.2,463.3 341.5,470.4 341.8,467.9 342.1,463.6 342.4,464.8 342.8,469.5 343.1,471.2 343.4,461.7 343.7,469.7 344.0,468.9 344.3,473.3 344.6,469.2 344.9,466.4 345.3,462.3 345.6,463.2 345.9,457.6 346.2,463.2 346.5,464.3 346.8,467.8 347.1,464.0 347.4,467.7 347.7,460.8 348.1,448.3 348.4,431.1 348.7,408.8 349.0,431.1 349.3,448.3 349.6,460.8 349.9,458.5 350.2,472.0 350.6,468.7 350.9,467.3 351.2,466.1 351.5,460.8 351.8,453.9 352.1,460.7 352.4,466.1 352.7,469.1 353.1,470.0 353.4,469.2 353.7,462.3 354.0,469.0 354.3,461.5 354.6,469.0 354.9,465.2 355.2,467.7 355.5,471.1 355.9,468.2 356.2,466.0 356.5,470.0 356.8,468.8 357.1,468.7 357.4,465.3 357.7,459.5 358.0,452.0 358.4,459.5 358.7,465.3 359.0,462.8 359.3,470.2 359.6,468.7 359.9,468.3 360.2,464.7 360.5,468.9 360.9,467.2 361.2,470.3 361.5,472.1 361.8,465.9 362.1,467.8 362.4,463.8 362.7,471.9 363.0,469.9 363.3,471.5 363.7,470.5 364.0,463.7 364.3,470.9 364.6,467.7 364.9,466.4 365.2,463.7 365.5,471.2 365.8,470.2 366.2,468.7 366.5,469.9 366.8,467.9 367.1,466.2 367.4,470.5 367.7,469.0 368.0,468.4 368.3,466.6 368.7,464.1 369.0,459.0 369.3,464.1 369.6,465.3 369.9,468.2 370.2,468.3 370.5,463.1 370.8,469.2 371.1,470.9 371.5,463.0 371.8,471.1 372.1,467.9 372.4,466.3 372.7,468.9 373.0,466.3 373.3,467.4 373.6,460.8 374.0,465.8 374.3,472.6 374.6,468.0 374.9,469.9 375.2,468.0 375.5,465.2 375.8,471.9 376.1,471.2 376.5,468.7 376.8,472.1 377.1,468.6 377.4,471.8 377.7,465.3 378.0,469.5 378.3,469.8 378.6,468.0 378.9,467.6 379.3,472.3 379.6,466.7 379.9,469.4 380.2,467.5 380.5,469.3 380.8,470.0 381.1,469.8 381.4,464.9 381.8,467.3 382.1,472.0 382.4,471.5 382.7,469.2 383.0,467.9 383.3,469.5 383.6,465.2 383.9,459.3 384.2,451.7 384.6,459.3 384.9,465.2 385.2,463.1 385.5,460.2 385.8,450.9 386.1,438.8 386.4,450.9 386.7,460.2 387.1,466.0 387.4,465.9 387.7,468.4 388.0,468.0 388.3,469.1 388.6,468.6 388.9,462.4 389.2,466.5 389.6,461.5 389.9,455.1 390.2,461.5 390.5,466.5 390.8,470.1 391.1,472.1 391.4,468.2 391.7,467.1 392.0,468.4 392.4,467.0 392.7,469.2 393.0,469.1 393.3,471.9 393.6,469.1 393.9,466.1 394.2,470.0 394.5,466.4 394.9,466.3 395.2,467.1 395.5,461.6 395.8,469.0 396.1,468.3 396.4,468.6 396.7,467.1 397.0,468.0 397.4,466.5 397.7,466.1 398.0,469.3 398.3,469.3 398.6,468.1 398.9,466.0 399.2,464.5 399.5,466.1 399.8,464.9 400.2,464.2 400.5,469.5 400.8,463.8 401.1,469.9 401.4,469.0 401.7,470.3 402.0,470.1 402.3,465.0 402.7,471.1 403.0,470.8 403.3,467.9 403.6,463.8 403.9,458.4 404.2,463.8 404.5,464.9 404.8,467.0 405.2,460.8 405.5,468.3 405.8,469.3 406.1,466.3 406.4,460.3 406.7,466.6 407.0,466.3 407.3,470.8 407.6,470.0 408.0,470.9 408.3,468.1 408.6,461.9 408.9,459.0 409.2,463.4 409.5,468.1 409.8,465.2 410.1,462.3 410.5,465.7 410.8,468.1 411.1,464.2 411.4,466.6 411.7,469.2 412.0,466.7 412.3,469.5 412.6,466.0 413.0,471.3 413.3,469.5 413.6,470.7 413.9,469.4 414.2,471.5 414.5,466.0 414.8,467.5 415.1,468.9 415.4,469.1 415.8,469.3 416.1,462.4 416.4,464.5 416.7,468.1 417.0,466.1 417.3,465.6 417.6,466.3 417.9,468.2 418.3,463.7 418.6,467.4 418.9,467.0 419.2,469.2 419.5,467.4 419.8,468.4 420.1,464.3 420.4,467.5 420.8,468.6 421.1,466.7 421.4,469.2 421.7,466.3 422.0,465.2 422.3,462.1 422.6,461.9 422.9,467.8 423.2,462.8 423.6,455.3 423.9,445.5 424.2,455.3 424.5,459.7 424.8,466.3 425.1,470.9 425.4,465.8 425.7,465.9 426.1,465.7 426.4,465.1 426.7,460.0 427.0,470.3 427.3,468.8 427.6,467.1 427.9,467.1 428.2,468.5 428.5,467.2 428.9,466.8 429.2,461.9 429.5,455.6 429.8,461.9 430.1,466.8 430.4,467.9 430.7,464.6 431.0,463.7 431.4,464.4 431.7,469.5 432.0,470.5 432.3,466.1 432.6,465.8 432.9,463.8 433.2,458.4 433.5,463.8 433.9,467.9 434.2,470.8 434.5,466.0 434.8,471.0 435.1,468.7 435.4,470.0 435.7,465.6 436.0,464.7 436.3,466.5 436.7,462.0 437.0,467.7 437.3,472.8 437.6,461.6 437.9,471.9 438.2,469.3 438.5,466.0 438.8,465.0 439.2,463.0 439.5,461.6 439.8,460.6 440.1,468.9 440.4,472.5 440.7,467.0 441.0,471.8 441.3,469.9 441.7,471.7 442.0,465.1 442.3,465.1 442.6,469.7 442.9,469.0 443.2,469.6 443.5,469.6 443.8,468.6 444.1,470.8 444.5,471.4 444.8,467.7 445.1,469.6 445.4,471.2 445.7,468.7 446.0,467.6 446.3,468.1 446.6,469.0 447.0,468.0 447.3,468.1 447.6,469.3 447.9,466.6 448.2,467.6 448.5,469.8 448.8,470.1 449.1,471.4 449.5,470.4 449.8,468.8 450.1,468.0 450.4,466.8 450.7,468.7 451.0,469.5 451.3,469.3 451.6,468.3 451.9,461.6 452.3,466.6 452.6,469.5 452.9,464.6 453.2,472.2 453.5,470.5 453.8,466.2 454.1,469.9 454.4,464.7 454.8,467.2 455.1,470.2 455.4,469.3 455.7,469.6 456.0,465.4 456.3,463.0 456.6,457.3 456.9,463.0 457.3,467.4 457.6,462.5 457.9,465.7 458.2,457.5 458.5,449.0 458.8,436.0 459.1,449.0 459.4,459.1 459.7,465.5 460.1,464.9 460.4,465.5 460.7,465.0 461.0,465.0 461.3,464.9 461.6,460.9 461.9,454.5 462.2,436.1 462.6,410.7 462.9,377.8 463.2,410.7 463.5,436.1 463.8,454.5 464.1,456.6 464.4,470.9 464.7,466.1 465.0,468.3 465.4,464.1 465.7,459.5 466.0,464.5 466.3,466.3 466.6,468.3 466.9,472.1 467.2,463.1 467.5,468.6 467.9,472.3 468.2,462.3 468.5,462.6 468.8,472.5 469.1,463.7 469.4,472.9 469.7,463.7 470.0,468.8 470.4,465.2 470.7,460.7 471.0,465.2 471.3,468.8 471.6,470.1 471.9,471.9 472.2,465.8 472.5,468.6 472.8,471.0 473.2,469.5 473.5,468.2 473.8,468.7 474.1,469.2 474.4,465.8 474.7,468.5 475.0,472.5 475.3,471.5 475.7,468.2 476.0,466.8 476.3,467.6 476.6,472.0 476.9,470.4 477.2,465.0 477.5,464.7 477.8,469.0 478.2,467.9 478.5,470.1 478.8,469.7 479.1,472.2 479.4,466.2 479.7,467.3 480.0,468.5 480.3,469.6 480.6,468.9 481.0,466.3 481.3,470.7 481.6,467.4 481.9,469.0 482.2,470.3 482.5,465.8 482.8,471.6 483.1,466.7 483.5,469.1 483.8,466.9 484.1,466.5 484.4,471.2 484.7,469.2 485.0,469.5 485.3,469.2 485.6,470.8 486.0,469.1 486.3,469.3 486.6,469.1 486.9,471.9 487.2,463.1 487.5,466.6 487.8,469.7 488.1,472.9 488.4,469.1 488.8,462.6 489.1,470.9 489.4,467.2 489.7,466.2 490.0,470.4 490.3,468.5 490.6,463.0 490.9,469.9 491.3,467.5 491.6,470.5 491.9,468.7 492.2,467.7 492.5,465.2 492.8,460.7 493.1,465.2 493.4,467.7 493.8,471.3 494.1,465.5 494.4,463.5 494.7,467.0 495.0,469.0 495.3,464.3 495.6,457.9 495.9,449.5 496.2,457.9 496.6,464.3 496.9,468.8 497.2,466.7 497.5,471.3 497.8,466.7 498.1,471.3 498.4,465.9 498.7,468.0 499.1,470.6 499.4,465.9 499.7,466.0 500.0,461.8 500.3,466.0 500.6,467.3 500.9,468.3 501.2,466.2 501.6,469.4 501.9,471.1 502.2,462.2 502.5,471.7 502.8,464.4 503.1,467.1 503.4,466.9 503.7,469.9 504.0,467.7 504.4,468.2 504.7,467.4 505.0,469.6 505.3,463.8 505.6,470.2 505.9,470.1 506.2,468.8 506.5,469.0 506.9,470.7 507.2,466.4 507.5,469.8 507.8,471.2 508.1,468.3 508.4,467.2 508.7,470.5 509.0,464.0 509.3,465.8 509.7,469.1 510.0,465.9 510.3,466.2 510.6,470.3 510.9,471.3 511.2,470.0 511.5,469.5 511.8,470.2 512.2,464.4 512.5,470.4 512.8,466.6 513.1,468.6 513.4,470.9 513.7,468.8 514.0,469.5 514.3,469.5 514.7,470.4 515.0,464.5 515.3,469.6 515.6,469.7 515.9,470.9 516.2,469.7 516.5,471.1 516.8,470.7 517.1,467.6 517.5,462.7 517.8,463.6 518.1,468.0 518.4,465.4 518.7,473.2 519.0,467.5 519.3,469.6 519.6,464.1 520.0,467.1 520.3,470.3 520.6,462.7 520.9,473.3 521.2,470.2 521.5,470.7 521.8,470.6 522.1,469.7 522.5,462.6 522.8,470.1 523.1,470.3 523.4,469.3 523.7,468.0 524.0,472.5 524.3,466.9 524.6,461.6 524.9,472.8 525.3,471.1 525.6,471.0 525.9,463.5 526.2,471.6 526.5,473.1 526.8,470.7 527.1,470.5 527.4,471.1 527.8,471.9 528.1,469.6 528.4,470.9 528.7,465.3 529.0,471.2 529.3,469.2 529.6,470.3 529.9,470.1 530.3,471.7 530.6,466.5 530.9,469.2 531.2,468.8 531.5,471.8 531.8,464.0 532.1,466.4 532.4,465.3 532.7,459.7 533.1,459.6 533.4,446.1 533.7,427.3 534.0,403.0 534.3,427.3 534.6,446.1 534.9,459.0 535.2,468.3 535.6,463.0 535.9,463.8 536.2,460.9 536.5,471.3 536.8,473.2 537.1,460.8 537.4,462.9 537.7,465.8 538.1,470.5 538.4,466.5 538.7,466.4 539.0,467.4 539.3,470.1 539.6,469.7 539.9,472.8 540.2,472.6 540.5,467.7 540.9,467.1 541.2,470.1 541.5,467.7 541.8,469.6 542.1,470.5 542.4,472.2 542.7,471.1 543.0,469.7 543.4,468.3 543.7,465.2 544.0,465.9 544.3,468.3 544.6,469.5 544.9,472.4 545.2,471.2 545.5,463.3 545.8,466.0 546.2,467.1 546.5,466.2 546.8,468.6 547.1,472.9 547.4,468.0 547.7,466.3 548.0,469.6 548.3,471.6 548.7,463.5 549.0,469.6 549.3,470.5 549.6,466.4 549.9,472.3 550.2,467.3 550.5,470.9 550.8,469.8 551.2,472.1 551.5,470.0 551.8,469.9 552.1,467.4 552.4,463.0 552.7,457.3 553.0,463.0 553.3,467.4 553.6,468.9 554.0,466.0 554.3,467.7 554.6,467.9 554.9,469.5 555.2,471.1 555.5,466.1 555.8,470.7 556.1,471.3 556.5,466.3 556.8,469.3 557.1,470.1 557.4,469.1 557.7,469.9 558.0,467.0 558.3,472.7 558.6,471.4 559.0,469.4 559.3,467.2 559.6,471.5 559.9,467.5 560.2,470.2 560.5,467.0 560.8,469.9 561.1,470.9 561.4,465.0 561.8,470.5 562.1,468.7 562.4,471.0 562.7,470.4 563.0,468.5 563.3,469.0 563.6,469.3 563.9,467.6 564.3,470.8 564.6,464.1 564.9,471.4 565.2,470.4 565.5,467.8 565.8,467.1 566.1,473.0 566.4,469.8 566.8,472.2 567.1,468.4 567.4,471.2 567.7,466.6 568.0,467.0 568.3,462.3 568.6,456.2 568.9,462.3 569.2,467.0 569.6,464.7 569.9,468.1 570.2,465.2 570.5,459.3 570.8,451.7 571.1,459.3 571.4,465.2 571.7,467.9 572.1,469.5 572.4,466.5 572.7,467.4 573.0,470.1 573.3,464.1 573.6,473.0 573.9,470.7 574.2,470.8 574.6,466.3 574.9,473.3 575.2,469.4 575.5,464.6 575.8,465.1 576.1,466.6 576.4,469.0 576.7,469.5 577.0,466.8 577.4,469.8 577.7,473.5 578.0,468.7 578.3,466.8 578.6,468.5 578.9,468.1 579.2,468.0 579.5,469.5 579.9,466.3 580.2,464.1 580.5,459.0 580.8,464.1 581.1,466.8 581.4,465.6 581.7,471.9 582.0,472.2 582.4,471.4 582.7,469.8 583.0,467.0 583.3,471.4 583.6,471.4 583.9,469.2 584.2,471.1 584.5,469.1 584.8,470.8 585.2,468.5 585.5,464.9 585.8,460.1 586.1,464.9 586.4,468.5 586.7,468.3 587.0,468.9 587.3,468.4 587.7,464.5 588.0,463.4 588.3,469.0 588.6,470.3 588.9,469.7 589.2,467.9 589.5,471.3 589.8,470.5 590.1,469.6 590.5,471.3 590.8,467.0 591.1,471.7 591.4,466.6 591.7,468.0 592.0,468.1 592.3,467.2 592.6,470.7 593.0,467.4 593.3,464.0 593.6,470.7 593.9,469.5 594.2,467.1 594.5,469.6 594.8,465.6 595.1,470.0 595.5,463.7 595.8,468.5 596.1,464.8 596.4,471.2 596.7,467.3 597.0,463.5 597.3,468.4 597.6,471.4 597.9,471.4 598.3,470.0 598.6,470.4 598.9,469.9 599.2,466.4 599.5,468.2 599.8,468.7 600.1,464.8 600.4,472.6 600.8,465.9 601.1,470.3 601.4,471.0 601.7,471.5 602.0,465.5 602.3,468.8 602.6,469.2 602.9,469.5 603.3,466.8 603.6,468.9 603.9,470.4 604.2,466.3 604.5,471.5 604.8,467.8 605.1,472.0 605.4,471.2 605.7,471.1 606.1,470.0 606.4,467.4 606.7,467.2 607.0,468.5 607.3,463.5 607.6,464.3 607.9,457.9 608.2,449.5 608.6,457.9 608.9,464.3 609.2,468.7 609.5,466.1 609.8,472.6 610.1,466.2 610.4,469.8 610.7,467.7 611.1,468.9 611.4,470.0 611.7,469.3 612.0,469.5 612.3,472.7 612.6,470.4 612.9,468.1 613.2,468.6 613.5,468.7 613.9,472.4 614.2,466.4 614.5,471.0 614.8,468.0 615.1,470.3 615.4,467.0 615.7,468.9 616.0,468.6 616.4,466.0 616.7,466.2 617.0,471.6 617.3,468.2 617.6,468.2 617.9,472.9 618.2,467.3 618.5,465.8 618.9,470.4 619.2,466.8 619.5,469.2 619.8,466.0 620.1,461.8 620.4,466.0 620.7,469.1 621.0,471.5 621.3,466.6 621.7,469.6 622.0,468.9 622.3,470.6 622.6,470.8 622.9,467.7 623.2,471.0 623.5,465.1 623.8,469.9 624.2,466.5 624.5,470.7 624.8,468.9 625.1,465.6 625.4,471.8 625.7,469.9 626.0,468.6 626.3,467.0 626.6,468.0 627.0,472.5 627.3,469.7 627.6,467.8 627.9,466.4 628.2,465.3 628.5,469.9 628.8,471.0 629.1,470.2 629.5,471.7 629.8,471.5 630.1,472.3 630.4,470.1 630.7,469.3 631.0,462.8 631.3,471.3 631.6,466.1 632.0,469.6 632.3,464.8 632.6,470.7 632.9,467.4 633.2,464.7 633.5,470.0 633.8,467.8 634.1,471.0 634.4,468.8 634.8,465.4 635.1,470.6 635.4,469.8 635.7,470.6 636.0,471.4 636.3,468.4 636.6,471.2 636.9,470.5 637.3,469.8 637.6,467.7 637.9,465.6 638.2,470.1 638.5,464.9 638.8,472.2 639.1,465.0 639.4,468.0 639.8,470.6 640.1,468.4 640.4,469.7 640.7,470.9 641.0,470.1 641.3,467.9 641.6,466.8 641.9,469.2 642.2,467.0 642.6,468.2 642.9,462.8 643.2,455.3 643.5,445.5 643.8,455.3 644.1,461.4 644.4,466.1 644.7,471.7 645.1,467.5 645.4,469.3 645.7,470.9 646.0,470.3 646.3,468.7 646.6,472.2 646.9,467.2 647.2,469.3 647.6,466.2 647.9,468.8 648.2,472.7 648.5,468.1 648.8,470.3 649.1,472.7 649.4,469.1 649.7,470.1 650.0,464.6 650.4,469.4 650.7,469.2 651.0,472.6 651.3,467.5 651.6,468.1 651.9,461.8 652.2,470.9 652.5,468.2 652.9,465.8 653.2,471.3 653.5,468.7 653.8,466.0 654.1,469.9 654.4,470.9 654.7,470.2 655.0,466.6 655.4,470.1 655.7,468.7 656.0,467.9 656.3,471.6 656.6,471.1 656.9,463.5 657.2,470.5 657.5,471.3 657.8,469.1 658.2,470.5 658.5,467.4 658.8,472.6 659.1,469.5 659.4,468.8 659.7,469.8 660.0,469.9 660.3,470.3 660.7,470.9 661.0,469.1 661.3,468.9 661.6,465.8 661.9,471.3 662.2,468.0 662.5,473.2 662.8,466.8 663.1,469.0" fill="none" stroke="#0072BD" stroke-width="1.25" stroke-linejoin="round"/>
<line x1="371.0" y1="364.1" x2="357.9" y2="388.0" stroke="#000" stroke-width="1.60"/><polygon points="350.2,402.0 353.4,378.3 357.9,388.0 368.5,386.6" fill="#000"/>
<line x1="552.7" y1="360.3" x2="542.6" y2="380.5" stroke="#000" stroke-width="1.60"/><polygon points="535.4,394.8 537.7,371.0 542.6,380.5 553.1,378.7" fill="#000"/>
<rect x="165.30" y="544.30" width="497.90" height="184.60" fill="none" stroke="#141414" stroke-width="1.35"/>
<text x="164.3" y="756.0" font-size="19.5" text-anchor="middle" fill="#262626">0</text>
<path d="M289.78 728.90 v-5.7 M289.78 544.30 v5.7" stroke="#262626" stroke-width="1.35" fill="none"/>
<text x="288.8" y="756.0" font-size="19.5" text-anchor="middle" fill="#262626">100</text>
<path d="M414.25 728.90 v-5.7 M414.25 544.30 v5.7" stroke="#262626" stroke-width="1.35" fill="none"/>
<text x="413.2" y="756.0" font-size="19.5" text-anchor="middle" fill="#262626">200</text>
<path d="M538.73 728.90 v-5.7 M538.73 544.30 v5.7" stroke="#262626" stroke-width="1.35" fill="none"/>
<text x="537.7" y="756.0" font-size="19.5" text-anchor="middle" fill="#262626">300</text>
<text x="662.2" y="756.0" font-size="19.5" text-anchor="middle" fill="#262626">400</text>
<text x="157.7" y="736.4" font-size="19.5" text-anchor="end" fill="#262626">0</text>
<path d="M165.30 659.50 h5.7 M663.20 659.50 h-5.7" stroke="#262626" stroke-width="1.35" fill="none"/>
<text x="157.7" y="667.0" font-size="19.5" text-anchor="end" fill="#262626">0.005</text>
<path d="M165.30 590.10 h5.7 M663.20 590.10 h-5.7" stroke="#262626" stroke-width="1.35" fill="none"/>
<text x="157.7" y="597.6" font-size="19.5" text-anchor="end" fill="#262626">0.01</text>
<text transform="translate(99.0 637.0) rotate(-90)" font-size="21.5" word-spacing="0.0" text-anchor="middle" fill="#262626">Amplitude&#160;&#160;(m<tspan dy="-12.5" font-size="17.0">2</tspan><tspan dy="12.5">/s)</tspan></text>
<text x="407.0" y="782.9" font-size="21.5" text-anchor="middle" fill="#262626">Frequency (Hz)</text>
<polyline points="165.3,723.9 165.6,701.5 165.9,703.0 166.2,722.0 166.5,718.5 166.9,711.9 167.2,700.5 167.5,685.7 167.8,700.5 168.1,711.9 168.4,717.1 168.7,714.2 169.0,704.4 169.3,691.7 169.7,704.4 170.0,700.3 170.3,710.9 170.6,699.8 170.9,684.7 171.2,699.8 171.5,711.5 171.8,716.5 172.1,697.7 172.5,715.8 172.8,722.1 173.1,718.6 173.4,711.7 173.7,702.7 174.0,711.7 174.3,718.6 174.6,713.9 174.9,704.1 175.3,708.4 175.6,725.4 175.9,722.0 176.2,714.8 176.5,712.1 176.8,714.0 177.1,718.8 177.4,725.6 177.7,717.8 178.1,712.9 178.4,725.9 178.7,722.5 179.0,717.3 179.3,719.3 179.6,716.8 179.9,717.6 180.2,720.5 180.5,712.8 180.9,715.8 181.2,707.0 181.5,719.0 181.8,724.0 182.1,713.9 182.4,720.6 182.7,724.7 183.0,722.1 183.3,711.7 183.7,720.8 184.0,717.2 184.3,722.5 184.6,724.2 184.9,712.5 185.2,724.7 185.5,724.2 185.8,715.2 186.1,723.2 186.5,702.5 186.8,715.3 187.1,711.3 187.4,716.2 187.7,712.7 188.0,707.2 188.3,714.6 188.6,715.0 189.0,720.3 189.3,725.7 189.6,725.9 189.9,722.6 190.2,719.2 190.5,720.2 190.8,714.6 191.1,720.3 191.4,713.7 191.8,711.7 192.1,716.5 192.4,716.4 192.7,723.6 193.0,722.6 193.3,718.6 193.6,718.0 193.9,722.5 194.2,722.4 194.6,724.2 194.9,726.8 195.2,722.2 195.5,723.0 195.8,705.7 196.1,719.4 196.4,718.2 196.7,711.0 197.0,701.6 197.4,711.0 197.7,718.2 198.0,717.0 198.3,724.4 198.6,710.9 198.9,716.2 199.2,716.0 199.5,720.9 199.8,714.5 200.2,720.3 200.5,717.1 200.8,721.4 201.1,720.0 201.4,706.7 201.7,717.3 202.0,683.5 202.3,691.2 202.6,671.5 203.0,691.2 203.3,697.9 203.6,712.3 203.9,712.7 204.2,705.9 204.5,690.5 204.8,670.6 205.1,690.5 205.4,705.9 205.8,714.2 206.1,718.8 206.4,721.3 206.7,693.5 207.0,710.1 207.3,721.1 207.6,713.8 207.9,703.7 208.2,690.5 208.6,703.7 208.9,713.8 209.2,715.5 209.5,708.7 209.8,692.1 210.1,716.7 210.4,699.4 210.7,689.3 211.0,668.6 211.4,689.3 211.7,705.2 212.0,712.4 212.3,699.4 212.6,712.8 212.9,712.4 213.2,705.9 213.5,724.7 213.8,720.6 214.2,714.6 214.5,719.7 214.8,723.1 215.1,710.3 215.4,720.3 215.7,715.3 216.0,722.3 216.3,713.6 216.6,723.8 217.0,725.8 217.3,721.1 217.6,707.0 217.9,714.5 218.2,716.9 218.5,722.3 218.8,723.2 219.1,718.6 219.4,711.7 219.8,702.7 220.1,711.7 220.4,718.6 220.7,722.0 221.0,715.5 221.3,720.0 221.6,716.1 221.9,701.9 222.2,722.6 222.6,716.4 222.9,717.2 223.2,720.3 223.5,722.0 223.8,721.5 224.1,711.2 224.4,717.1 224.7,714.7 225.0,720.2 225.4,717.3 225.7,720.2 226.0,715.6 226.3,718.7 226.6,722.7 226.9,720.3 227.2,720.1 227.5,725.9 227.8,724.3 228.2,720.1 228.5,714.2 228.8,706.5 229.1,714.2 229.4,718.5 229.7,717.0 230.0,717.2 230.3,712.6 230.6,711.4 231.0,725.8 231.3,718.2 231.6,722.9 231.9,707.2 232.2,725.1 232.5,718.7 232.8,718.2 233.1,711.9 233.5,715.6 233.8,703.1 234.1,685.7 234.4,663.2 234.7,685.7 235.0,703.1 235.3,715.6 235.6,707.6 235.9,711.4 236.3,716.4 236.6,710.4 236.9,699.0 237.2,678.9 237.5,652.8 237.8,678.9 238.1,699.0 238.4,697.3 238.7,710.1 239.1,692.4 239.4,667.9 239.7,636.2 240.0,667.9 240.3,692.4 240.6,698.2 240.9,707.3 241.2,710.4 241.5,718.9 241.9,711.6 242.2,712.6 242.5,705.8 242.8,690.4 243.1,670.3 243.4,690.4 243.7,682.4 244.0,717.0 244.3,709.0 244.7,722.5 245.0,726.0 245.3,721.3 245.6,708.5 245.9,718.5 246.2,714.9 246.5,707.6 246.8,714.9 247.1,720.0 247.5,723.9 247.8,719.8 248.1,720.9 248.4,724.4 248.7,725.0 249.0,723.1 249.3,713.8 249.6,720.7 249.9,725.3 250.3,713.8 250.6,713.0 250.9,716.2 251.2,725.3 251.5,714.4 251.8,718.3 252.1,719.9 252.4,720.0 252.7,722.3 253.1,715.9 253.4,722.0 253.7,716.7 254.0,727.0 254.3,718.7 254.6,721.9 254.9,716.7 255.2,711.9 255.5,721.9 255.9,718.4 256.2,705.9 256.5,718.3 256.8,709.2 257.1,696.0 257.4,678.9 257.7,696.0 258.0,709.2 258.3,710.5 258.7,721.7 259.0,721.8 259.3,714.0 259.6,718.6 259.9,723.9 260.2,714.6 260.5,725.6 260.8,720.1 261.1,723.6 261.5,720.1 261.8,719.6 262.1,715.2 262.4,720.2 262.7,714.0 263.0,719.4 263.3,719.9 263.6,719.2 263.9,723.1 264.3,721.3 264.6,724.7 264.9,727.1 265.2,723.9 265.5,725.9 265.8,724.1 266.1,719.6 266.4,713.3 266.7,705.2 267.1,713.3 267.4,712.5 267.7,712.1 268.0,722.0 268.3,723.5 268.6,720.6 268.9,702.4 269.2,725.0 269.5,720.0 269.9,714.1 270.2,720.2 270.5,719.1 270.8,717.5 271.1,712.6 271.4,701.7 271.7,687.5 272.0,701.7 272.3,712.6 272.7,715.9 273.0,723.4 273.3,718.5 273.6,723.5 273.9,712.2 274.2,702.5 274.5,684.8 274.8,661.8 275.1,684.8 275.5,697.3 275.8,713.1 276.1,697.6 276.4,696.8 276.7,675.2 277.0,647.3 277.3,675.2 277.6,696.8 277.9,712.3 278.3,721.2 278.6,708.7 278.9,710.0 279.2,726.1 279.5,716.8 279.8,717.4 280.1,706.6 280.4,691.6 280.8,672.2 281.1,691.6 281.4,706.6 281.7,706.0 282.0,719.0 282.3,710.5 282.6,707.6 282.9,722.6 283.2,722.0 283.6,716.5 283.9,716.3 284.2,715.8 284.5,719.5 284.8,720.1 285.1,714.2 285.4,706.5 285.7,704.7 286.0,720.1 286.4,716.8 286.7,713.2 287.0,719.3 287.3,721.0 287.6,725.2 287.9,724.3 288.2,716.9 288.5,722.3 288.8,720.8 289.2,719.1 289.5,724.3 289.8,719.1 290.1,708.5 290.4,723.3 290.7,725.2 291.0,711.2 291.3,717.7 291.6,718.8 292.0,724.2 292.3,721.0 292.6,724.0 292.9,725.3 293.2,715.9 293.5,710.2 293.8,712.1 294.1,721.8 294.4,717.7 294.8,710.2 295.1,700.4 295.4,710.2 295.7,717.7 296.0,718.9 296.3,722.1 296.6,725.5 296.9,725.6 297.2,722.2 297.6,720.3 297.9,720.4 298.2,725.4 298.5,723.0 298.8,726.2 299.1,720.2 299.4,716.0 299.7,709.0 300.0,712.8 300.4,714.4 300.7,726.3 301.0,721.8 301.3,719.6 301.6,722.3 301.9,715.3 302.2,724.5 302.5,722.7 302.8,714.5 303.2,709.0 303.5,698.6 303.8,709.0 304.1,717.0 304.4,721.4 304.7,718.7 305.0,722.5 305.3,721.1 305.6,723.9 306.0,722.0 306.3,721.6 306.6,712.3 306.9,723.7 307.2,727.1 307.5,723.1 307.8,723.8 308.1,718.0 308.4,722.8 308.8,718.9 309.1,712.2 309.4,703.4 309.7,712.2 310.0,706.2 310.3,720.4 310.6,720.8 310.9,722.9 311.2,715.5 311.6,702.9 311.9,685.5 312.2,662.9 312.5,685.5 312.8,702.9 313.1,715.5 313.4,723.5 313.7,724.2 314.0,723.3 314.4,719.6 314.7,709.3 315.0,719.5 315.3,720.3 315.6,720.6 315.9,715.5 316.2,722.6 316.5,716.7 316.8,708.5 317.2,697.9 317.5,708.5 317.8,716.2 318.1,722.6 318.4,715.1 318.7,718.2 319.0,724.1 319.3,718.6 319.6,715.0 320.0,719.6 320.3,725.1 320.6,720.9 320.9,719.0 321.2,721.9 321.5,717.3 321.8,721.4 322.1,722.4 322.4,722.0 322.8,724.5 323.1,716.8 323.4,717.6 323.7,721.6 324.0,720.0 324.3,726.4 324.6,721.9 324.9,725.6 325.3,720.2 325.6,721.2 325.9,721.7 326.2,721.8 326.5,724.6 326.8,722.9 327.1,725.6 327.4,725.0 327.7,724.8 328.1,727.9 328.4,727.0 328.7,719.6 329.0,723.7 329.3,722.1 329.6,722.5 329.9,723.9 330.2,723.7 330.5,721.7 330.9,722.2 331.2,719.3 331.5,725.1 331.8,720.7 332.1,725.0 332.4,724.5 332.7,727.0 333.0,724.0 333.3,716.0 333.7,719.9 334.0,723.3 334.3,723.3 334.6,721.8 334.9,719.7 335.2,722.7 335.5,718.2 335.8,722.0 336.1,719.6 336.5,720.2 336.8,714.7 337.1,723.7 337.4,722.6 337.7,718.6 338.0,727.7 338.3,721.4 338.6,725.3 338.9,723.3 339.3,718.0 339.6,724.5 339.9,723.8 340.2,724.0 340.5,719.3 340.8,712.9 341.1,704.6 341.4,712.9 341.7,709.9 342.1,724.0 342.4,723.0 342.7,710.7 343.0,722.7 343.3,716.5 343.6,717.2 343.9,709.3 344.2,699.1 344.5,709.3 344.9,717.2 345.2,711.4 345.5,723.9 345.8,723.0 346.1,721.8 346.4,721.6 346.7,713.9 347.0,712.2 347.3,718.6 347.7,712.2 348.0,725.9 348.3,713.3 348.6,694.9 348.9,662.9 349.2,618.7 349.5,561.3 349.8,618.7 350.1,662.9 350.5,694.9 350.8,715.5 351.1,726.2 351.4,722.5 351.7,716.4 352.0,708.1 352.3,697.2 352.6,708.1 352.9,716.4 353.3,722.5 353.6,719.5 353.9,725.6 354.2,713.2 354.5,712.6 354.8,701.7 355.1,687.5 355.4,701.7 355.7,712.6 356.1,718.7 356.4,719.4 356.7,714.2 357.0,721.4 357.3,727.2 357.6,721.4 357.9,714.9 358.2,720.7 358.5,716.9 358.9,723.3 359.2,724.3 359.5,716.1 359.8,714.6 360.1,720.4 360.4,722.7 360.7,715.7 361.0,724.1 361.3,724.7 361.7,725.0 362.0,717.2 362.3,718.5 362.6,721.9 362.9,725.4 363.2,719.7 363.5,718.6 363.8,725.9 364.1,722.5 364.5,721.0 364.8,712.6 365.1,720.1 365.4,725.3 365.7,726.9 366.0,722.3 366.3,725.0 366.6,718.6 366.9,722.1 367.3,714.6 367.6,721.6 367.9,709.5 368.2,721.1 368.5,722.0 368.8,722.8 369.1,717.8 369.4,723.4 369.8,726.5 370.1,722.2 370.4,726.9 370.7,723.6 371.0,723.1 371.3,724.4 371.6,721.2 371.9,721.0 372.2,721.2 372.6,723.1 372.9,718.5 373.2,726.4 373.5,714.3 373.8,716.5 374.1,719.0 374.4,715.5 374.7,724.0 375.0,720.4 375.4,723.4 375.7,718.0 376.0,716.5 376.3,721.6 376.6,722.4 376.9,723.6 377.2,724.4 377.5,722.2 377.8,721.1 378.2,722.7 378.5,714.5 378.8,722.8 379.1,724.7 379.4,722.3 379.7,706.8 380.0,709.1 380.3,720.2 380.6,715.0 381.0,725.8 381.3,722.2 381.6,722.3 381.9,718.7 382.2,727.5 382.5,721.3 382.8,723.6 383.1,719.3 383.4,715.8 383.8,709.0 384.1,715.8 384.4,720.4 384.7,710.7 385.0,710.7 385.3,724.4 385.6,715.7 385.9,715.6 386.2,706.6 386.6,695.0 386.9,706.6 387.2,715.6 387.5,720.5 387.8,726.2 388.1,718.4 388.4,716.4 388.7,708.1 389.0,697.2 389.4,708.1 389.7,716.4 390.0,718.6 390.3,718.5 390.6,724.2 390.9,719.7 391.2,713.5 391.5,705.5 391.8,713.5 392.2,719.7 392.5,723.2 392.8,722.6 393.1,723.9 393.4,718.1 393.7,722.4 394.0,721.3 394.3,725.7 394.6,727.1 395.0,719.2 395.3,724.6 395.6,722.1 395.9,723.1 396.2,722.2 396.5,719.0 396.8,718.0 397.1,720.2 397.4,722.2 397.8,722.0 398.1,723.0 398.4,724.5 398.7,723.0 399.0,725.7 399.3,723.7 399.6,720.6 399.9,713.5 400.2,726.0 400.6,719.8 400.9,722.3 401.2,717.6 401.5,724.0 401.8,722.4 402.1,712.9 402.4,712.7 402.7,724.2 403.0,725.4 403.4,724.4 403.7,718.1 404.0,723.0 404.3,724.3 404.6,724.5 404.9,727.6 405.2,725.3 405.5,724.3 405.8,715.5 406.2,720.6 406.5,715.9 406.8,721.3 407.1,713.4 407.4,726.1 407.7,723.6 408.0,721.3 408.3,725.8 408.6,724.9 409.0,725.6 409.3,718.9 409.6,723.3 409.9,710.8 410.2,714.8 410.5,713.0 410.8,721.1 411.1,723.3 411.4,722.7 411.8,722.2 412.1,724.8 412.4,720.9 412.7,717.7 413.0,723.8 413.3,721.9 413.6,712.0 413.9,715.2 414.2,720.9 414.6,725.8 414.9,719.1 415.2,716.6 415.5,723.9 415.8,724.3 416.1,726.9 416.4,723.2 416.7,723.0 417.1,724.2 417.4,723.4 417.7,716.2 418.0,719.2 418.3,710.1 418.6,697.6 418.9,681.2 419.2,697.6 419.5,710.1 419.9,718.1 420.2,725.1 420.5,725.8 420.8,710.9 421.1,723.6 421.4,718.6 421.7,711.7 422.0,702.7 422.3,711.7 422.7,718.6 423.0,723.1 423.3,717.7 423.6,710.2 423.9,700.4 424.2,710.2 424.5,717.7 424.8,718.1 425.1,724.3 425.5,725.6 425.8,714.4 426.1,724.7 426.4,720.4 426.7,724.2 427.0,724.1 427.3,715.5 427.6,720.6 427.9,722.4 428.3,723.6 428.6,721.1 428.9,716.2 429.2,718.8 429.5,714.9 429.8,707.6 430.1,714.9 430.4,720.5 430.7,724.6 431.1,723.3 431.4,718.0 431.7,721.0 432.0,722.0 432.3,719.7 432.6,724.1 432.9,720.8 433.2,715.4 433.5,708.3 433.9,715.4 434.2,720.8 434.5,721.8 434.8,722.4 435.1,720.3 435.4,714.3 435.7,720.8 436.0,718.7 436.3,714.7 436.7,721.0 437.0,725.0 437.3,721.4 437.6,724.2 437.9,715.9 438.2,725.2 438.5,711.3 438.8,709.0 439.1,719.4 439.5,725.1 439.8,722.2 440.1,723.1 440.4,723.3 440.7,726.3 441.0,723.6 441.3,718.6 441.6,711.7 441.9,702.7 442.3,711.7 442.6,718.6 442.9,723.6 443.2,723.2 443.5,724.2 443.8,722.8 444.1,710.0 444.4,718.7 444.7,721.5 445.1,712.0 445.4,725.1 445.7,725.3 446.0,721.7 446.3,727.1 446.6,718.5 446.9,723.7 447.2,722.3 447.5,713.9 447.9,724.5 448.2,725.5 448.5,726.8 448.8,723.4 449.1,727.6 449.4,717.3 449.7,721.2 450.0,722.3 450.3,721.4 450.7,722.2 451.0,716.3 451.3,723.7 451.6,726.5 451.9,722.4 452.2,722.6 452.5,724.0 452.8,717.0 453.1,725.2 453.5,725.2 453.8,717.2 454.1,718.1 454.4,717.3 454.7,717.9 455.0,722.0 455.3,724.0 455.6,723.3 455.9,723.4 456.3,716.2 456.6,725.9 456.9,722.3 457.2,721.4 457.5,722.9 457.8,715.6 458.1,723.1 458.4,720.8 458.7,713.1 459.1,702.6 459.4,688.9 459.7,702.6 460.0,713.1 460.3,720.8 460.6,718.3 460.9,710.5 461.2,698.1 461.6,682.1 461.9,698.1 462.2,710.5 462.5,719.4 462.8,720.6 463.1,725.6 463.4,724.7 463.7,725.3 464.0,722.7 464.4,717.2 464.7,713.3 465.0,705.2 465.3,713.3 465.6,719.6 465.9,722.0 466.2,721.1 466.5,719.3 466.8,719.9 467.2,716.7 467.5,719.8 467.8,722.7 468.1,720.6 468.4,720.4 468.7,717.8 469.0,725.8 469.3,708.8 469.6,721.8 470.0,721.5 470.3,726.6 470.6,718.0 470.9,723.8 471.2,723.5 471.5,723.7 471.8,718.4 472.1,726.8 472.4,721.3 472.8,727.3 473.1,722.2 473.4,721.3 473.7,721.9 474.0,725.5 474.3,721.6 474.6,722.7 474.9,720.5 475.2,725.2 475.6,724.6 475.9,714.9 476.2,720.0 476.5,725.4 476.8,720.9 477.1,727.6 477.4,715.5 477.7,719.0 478.0,726.4 478.4,725.8 478.7,726.8 479.0,725.1 479.3,723.1 479.6,720.2 479.9,720.3 480.2,718.3 480.5,721.3 480.8,723.2 481.2,719.8 481.5,710.7 481.8,705.7 482.1,713.6 482.4,719.8 482.7,724.2 483.0,722.2 483.3,720.0 483.6,718.3 484.0,716.0 484.3,722.8 484.6,722.9 484.9,720.3 485.2,713.2 485.5,720.3 485.8,722.6 486.1,722.8 486.4,714.1 486.8,723.4 487.1,723.8 487.4,718.9 487.7,712.3 488.0,703.6 488.3,712.3 488.6,718.9 488.9,720.9 489.2,722.3 489.6,720.8 489.9,727.4 490.2,724.6 490.5,726.9 490.8,724.3 491.1,720.0 491.4,725.4 491.7,722.5 492.0,725.5 492.4,724.0 492.7,719.8 493.0,724.7 493.3,725.1 493.6,724.1 493.9,724.1 494.2,716.6 494.5,713.5 494.8,720.5 495.2,712.1 495.5,716.4 495.8,718.6 496.1,715.8 496.4,707.0 496.7,695.5 497.0,707.0 497.3,715.8 497.6,718.8 498.0,719.4 498.3,718.3 498.6,714.4 498.9,706.9 499.2,714.4 499.5,720.2 499.8,720.4 500.1,721.8 500.4,715.1 500.8,705.8 501.1,693.7 501.4,705.8 501.7,715.1 502.0,721.8 502.3,717.9 502.6,724.7 502.9,715.1 503.2,718.7 503.6,721.1 503.9,724.3 504.2,717.0 504.5,715.4 504.8,719.4 505.1,726.2 505.4,724.5 505.7,725.3 506.1,722.2 506.4,716.8 506.7,722.5 507.0,724.1 507.3,724.3 507.6,725.1 507.9,723.6 508.2,723.9 508.5,719.4 508.9,714.5 509.2,719.8 509.5,722.5 509.8,726.9 510.1,718.0 510.4,726.4 510.7,718.1 511.0,722.1 511.3,724.2 511.7,719.1 512.0,723.9 512.3,723.1 512.6,726.1 512.9,723.9 513.2,720.4 513.5,723.8 513.8,725.8 514.1,717.7 514.5,720.9 514.8,721.9 515.1,722.7 515.4,725.0 515.7,711.1 516.0,717.5 516.3,723.0 516.6,717.6 516.9,715.5 517.3,718.9 517.6,722.7 517.9,723.1 518.2,724.7 518.5,722.5 518.8,724.7 519.1,724.5 519.4,722.3 519.7,721.4 520.1,719.6 520.4,722.6 520.7,715.1 521.0,721.0 521.3,720.4 521.6,725.3 521.9,723.5 522.2,725.9 522.5,726.2 522.9,725.9 523.2,722.2 523.5,723.5 523.8,725.9 524.1,721.0 524.4,725.2 524.7,721.1 525.0,713.3 525.3,725.2 525.7,724.0 526.0,720.9 526.3,720.8 526.6,723.1 526.9,723.8 527.2,725.8 527.5,716.8 527.8,721.4 528.1,719.4 528.5,723.4 528.8,721.2 529.1,726.0 529.4,721.7 529.7,723.7 530.0,724.8 530.3,721.0 530.6,715.7 530.9,708.8 531.3,715.7 531.6,721.0 531.9,718.3 532.2,725.4 532.5,723.6 532.8,720.7 533.1,708.2 533.4,688.7 533.7,661.7 534.1,626.7 534.4,661.7 534.7,688.7 535.0,708.2 535.3,717.1 535.6,723.2 535.9,722.2 536.2,714.8 536.5,719.4 536.9,716.7 537.2,710.4 537.5,716.7 537.8,712.0 538.1,723.3 538.4,725.9 538.7,725.8 539.0,721.0 539.3,721.3 539.7,724.0 540.0,719.4 540.3,725.9 540.6,724.5 540.9,724.3 541.2,725.2 541.5,724.4 541.8,717.0 542.1,725.1 542.5,727.8 542.8,728.0 543.1,720.7 543.4,725.6 543.7,718.4 544.0,724.1 544.3,720.1 544.6,726.5 544.9,723.3 545.3,727.0 545.6,723.6 545.9,721.7 546.2,723.6 546.5,723.0 546.8,710.0 547.1,723.4 547.4,717.1 547.7,727.3 548.1,720.5 548.4,723.8 548.7,724.5 549.0,722.0 549.3,722.3 549.6,724.1 549.9,726.3 550.2,726.8 550.6,723.9 550.9,721.8 551.2,723.1 551.5,720.8 551.8,723.2 552.1,721.3 552.4,717.2 552.7,720.7 553.0,717.4 553.4,713.9 553.7,725.2 554.0,727.4 554.3,725.8 554.6,722.9 554.9,727.1 555.2,723.3 555.5,718.6 555.8,726.5 556.2,724.0 556.5,720.3 556.8,726.5 557.1,723.7 557.4,720.7 557.7,721.3 558.0,722.6 558.3,717.7 558.6,724.9 559.0,721.6 559.3,725.6 559.6,722.4 559.9,717.2 560.2,712.5 560.5,718.1 560.8,718.5 561.1,724.1 561.4,727.6 561.8,723.4 562.1,724.1 562.4,724.6 562.7,722.7 563.0,719.8 563.3,723.7 563.6,715.0 563.9,721.7 564.2,722.3 564.6,727.4 564.9,725.3 565.2,721.9 565.5,717.2 565.8,711.1 566.1,717.2 566.4,721.8 566.7,724.7 567.0,719.8 567.4,722.3 567.7,727.1 568.0,721.4 568.3,722.4 568.6,724.3 568.9,724.3 569.2,725.7 569.5,718.3 569.8,723.4 570.2,719.3 570.5,712.9 570.8,704.6 571.1,712.9 571.4,719.3 571.7,724.0 572.0,724.9 572.3,724.2 572.6,723.2 573.0,727.4 573.3,726.1 573.6,723.8 573.9,716.9 574.2,721.6 574.5,716.7 574.8,710.4 575.1,716.7 575.4,721.4 575.8,725.1 576.1,719.9 576.4,719.4 576.7,722.6 577.0,713.6 577.3,717.7 577.6,722.7 577.9,721.8 578.2,723.3 578.6,719.9 578.9,724.6 579.2,725.3 579.5,726.1 579.8,725.2 580.1,725.0 580.4,725.5 580.7,723.3 581.0,719.2 581.4,725.3 581.7,714.0 582.0,717.0 582.3,723.3 582.6,726.4 582.9,722.3 583.2,718.8 583.5,723.4 583.8,724.2 584.2,721.0 584.5,719.3 584.8,710.5 585.1,724.4 585.4,719.1 585.7,719.4 586.0,724.7 586.3,714.8 586.6,722.7 587.0,721.0 587.3,725.9 587.6,726.6 587.9,714.4 588.2,721.6 588.5,723.8 588.8,721.4 589.1,724.1 589.4,722.5 589.8,724.9 590.1,717.9 590.4,722.3 590.7,717.2 591.0,718.2 591.3,723.5 591.6,724.4 591.9,720.6 592.2,726.5 592.6,724.6 592.9,726.0 593.2,723.8 593.5,724.7 593.8,723.5 594.1,723.2 594.4,722.4 594.7,719.4 595.0,724.8 595.4,717.2 595.7,720.3 596.0,724.7 596.3,725.6 596.6,714.5 596.9,718.9 597.2,722.9 597.5,721.9 597.9,727.7 598.2,719.8 598.5,724.0 598.8,723.0 599.1,715.7 599.4,726.9 599.7,722.4 600.0,726.9 600.3,723.7 600.7,727.8 601.0,718.8 601.3,727.1 601.6,721.5 601.9,710.4 602.2,721.8 602.5,723.2 602.8,721.8 603.1,728.1 603.5,725.3 603.8,722.5 604.1,724.3 604.4,725.3 604.7,725.7 605.0,723.1 605.3,718.1 605.6,724.3 605.9,720.1 606.3,714.2 606.6,706.5 606.9,714.2 607.2,720.1 607.5,723.1 607.8,719.1 608.1,710.0 608.4,697.3 608.7,680.8 609.1,697.3 609.4,710.0 609.7,717.1 610.0,721.5 610.3,718.8 610.6,726.0 610.9,722.6 611.2,725.2 611.5,725.8 611.9,720.4 612.2,712.5 612.5,717.2 612.8,721.1 613.1,719.0 613.4,725.8 613.7,719.6 614.0,717.2 614.3,718.2 614.7,724.7 615.0,715.9 615.3,724.6 615.6,727.0 615.9,719.9 616.2,719.6 616.5,724.9 616.8,722.3 617.1,723.3 617.5,724.8 617.8,716.8 618.1,725.9 618.4,720.2 618.7,723.7 619.0,725.8 619.3,725.9 619.6,718.8 619.9,725.3 620.3,726.4 620.6,717.6 620.9,723.8 621.2,718.7 621.5,725.0 621.8,724.8 622.1,723.1 622.4,717.5 622.7,718.6 623.1,724.0 623.4,727.4 623.7,721.2 624.0,722.6 624.3,722.9 624.6,721.7 624.9,724.3 625.2,710.6 625.5,716.8 625.9,718.1 626.2,712.5 626.5,718.1 626.8,722.4 627.1,725.6 627.4,718.8 627.7,725.6 628.0,725.8 628.3,727.0 628.7,721.1 629.0,727.0 629.3,725.1 629.6,716.0 629.9,720.1 630.2,725.3 630.5,723.2 630.8,718.4 631.1,722.7 631.5,723.8 631.8,727.5 632.1,721.4 632.4,721.1 632.7,726.9 633.0,721.1 633.3,726.5 633.6,724.5 633.9,721.9 634.3,717.2 634.6,711.1 634.9,717.2 635.2,721.9 635.5,717.7 635.8,717.8 636.1,723.2 636.4,713.6 636.7,721.4 637.1,722.2 637.4,727.0 637.7,718.5 638.0,723.4 638.3,726.2 638.6,726.9 638.9,725.1 639.2,727.4 639.5,726.3 639.9,717.4 640.2,722.9 640.5,722.8 640.8,719.1 641.1,712.5 641.4,704.0 641.7,712.5 642.0,719.1 642.4,722.4 642.7,725.2 643.0,719.0 643.3,722.5 643.6,718.7 643.9,719.4 644.2,717.2 644.5,711.1 644.8,717.2 645.2,721.1 645.5,718.5 645.8,722.3 646.1,725.4 646.4,722.4 646.7,724.1 647.0,717.0 647.3,718.4 647.6,717.9 648.0,725.9 648.3,726.7 648.6,720.0 648.9,722.0 649.2,725.8 649.5,712.7 649.8,717.7 650.1,716.7 650.4,710.4 650.8,716.7 651.1,721.6 651.4,725.1 651.7,724.5 652.0,721.3 652.3,724.5 652.6,723.8 652.9,718.1 653.2,715.6 653.6,725.0 653.9,727.1 654.2,723.0 654.5,724.0 654.8,716.7 655.1,719.7 655.4,723.0 655.7,716.8 656.0,727.8 656.4,716.5 656.7,726.3 657.0,722.7 657.3,717.7 657.6,725.1 657.9,723.0 658.2,725.0 658.5,719.5 658.8,722.6 659.2,712.9 659.5,726.4 659.8,722.1 660.1,722.6 660.4,722.2 660.7,715.3 661.0,725.1 661.3,718.8 661.6,722.8 662.0,722.6 662.3,725.2 662.6,724.9 662.9,724.1 663.2,722.2" fill="none" stroke="#0072BD" stroke-width="1.25" stroke-linejoin="round"/>
<line x1="389.7" y1="597.3" x2="374.1" y2="580.8" stroke="#000" stroke-width="1.60"/><polygon points="363.1,569.2 384.7,579.5 374.1,580.8 372.2,591.3" fill="#000"/>
<line x1="557.0" y1="588.3" x2="546.9" y2="608.4" stroke="#000" stroke-width="1.60"/><polygon points="539.7,622.7 542.0,598.9 546.9,608.4 557.4,606.6" fill="#000"/>
<text class="ser" x="6.7" y="149.1" font-size="28.2" letter-spacing="-0.3" fill="#000">(<tspan font-weight="bold" font-size="27" dy="-0.7">a</tspan><tspan dy="0.7">)</tspan></text>
<text class="ser" x="5.2" y="415.5" font-size="28.2" letter-spacing="-0.3" fill="#000">(<tspan font-weight="bold" font-size="27" dy="-0.7">b</tspan><tspan dy="0.7">)</tspan></text>
<text class="ser" x="7.0" y="673.4" font-size="28.2" letter-spacing="-0.3" fill="#000">(<tspan font-weight="bold" font-size="27" dy="-0.7">c</tspan><tspan dy="0.7">)</tspan></text>
</svg></body></html>
